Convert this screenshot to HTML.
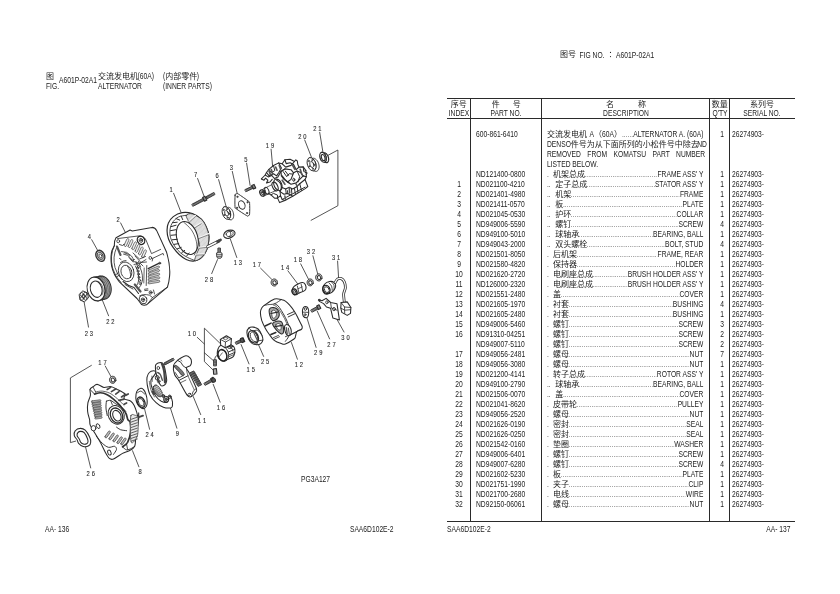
<!DOCTYPE html>
<html lang="zh">
<head>
<meta charset="utf-8">
<title>A601P-02A1 ALTERNATOR (INNER PARTS)</title>
<style>
html,body{margin:0;padding:0;background:#fff;}
body{width:840px;height:594px;position:relative;overflow:hidden;
 font-family:"Liberation Sans","Noto Sans CJK SC",sans-serif;font-size:9.0px;line-height:10px;color:#222;}
.t,.tr,.tc{position:absolute;white-space:nowrap;height:10px;transform:scaleX(0.745);}
.t{transform-origin:0 50%;}
.tr{transform-origin:100% 50%;text-align:right;}
.tc{transform-origin:50% 50%;text-align:center;}
.cj{display:inline-block;font-size:8.0px;vertical-align:top;height:10px;text-align:left;}
.cj>span{display:inline-block;position:relative;top:0.9px;transform:scaleX(1.3423);transform-origin:0 50%;}
.hl{position:absolute;background:#2a2a2a;height:1.15px;}
.vl{position:absolute;background:#2a2a2a;width:1.1px;}
#tbl{position:absolute;left:0;top:0;width:840px;height:594px;}
.row{position:absolute;left:447px;width:348px;height:10px;}
.row>span{position:absolute;top:0;height:10px;white-space:nowrap;transform:scaleX(0.745);}
.ix{left:0;width:24px;text-align:center;transform-origin:50% 50%;}
.pn{left:28.8px;transform-origin:0 50%;}
.ds{left:100.4px;width:209.9px;transform-origin:0 50%;}
.jl{left:100.4px;width:212.3px;transform-origin:0 50%;}
.ds{display:flex;overflow:hidden;}
.ds b{font-weight:normal;flex:0 0 auto;}
.ds i{font-style:normal;flex:1 1 0;overflow:hidden;color:#777;min-width:0;}
.ds u{text-decoration:none;color:#555;}
.qt{left:263.1px;width:24px;text-align:center;transform-origin:50% 50%;}
.sn{left:285px;transform-origin:0 50%;}
#fig{position:absolute;left:0;top:0;}
#page{position:absolute;left:0;top:0;width:840px;height:594px;background:#fff;will-change:transform;overflow:hidden;}
</style>
</head>
<body>
<div id="page">

<div class="t" style="left:46.2px;top:71px"><span class="cj" style="width:10.60px"><span>图</span></span></div>
<div class="t" style="left:46px;top:80.5px">FIG.</div>
<div class="t" style="left:59px;top:74.6px">A601P-02A1</div>
<div class="t" style="left:98px;top:71px"><span class="cj" style="width:53.02px"><span>交流发电机</span></span>(60A)</div>
<div class="t" style="left:98px;top:80.5px">ALTERNATOR</div>
<div class="t" style="left:163px;top:71px">(<span class="cj" style="width:42.42px"><span>内部零件</span></span>)</div>
<div class="t" style="left:163px;top:80.5px">(INNER PARTS)</div>
<div class="t" style="left:301px;top:474px">PG3A127</div>
<div class="t" style="left:45px;top:523.9px">AA- 136</div>
<div class="tr" style="right:446px;top:523.9px">SAA6D102E-2</div>
<div class="t" style="left:559.5px;top:49.6px"><span class="cj" style="width:21.21px"><span>图号</span></span>&nbsp; FIG NO. &nbsp;<span class="cj" style="width:10.60px"><span>：</span></span>A601P-02A1</div>
<div class="t" style="left:447px;top:523.9px">SAA6D102E-2</div>
<div class="tr" style="right:49.2px;top:523.9px">AA- 137</div>
<svg id="fig" width="840" height="594" viewBox="0 0 840 594" fill="none" stroke="#2b2b2b" stroke-width="0.8" stroke-linecap="round" stroke-linejoin="round">
<style>.lb{font-family:"Liberation Sans",sans-serif;font-size:7.4px;fill:#2a2a2a;stroke:#2a2a2a;stroke-width:0.12px;text-anchor:middle}</style>
<g id="leaders">
<text class="lb" transform="translate(317.4 128.6) scale(0.78 1)" y="2.7" x="-3.3 3.3">21</text>
<line x1="319.7" y1="132.3" x2="323.1" y2="153.2"/>
<text class="lb" transform="translate(302.4 136.1) scale(0.78 1)" y="2.7" x="-3.3 3.3">20</text>
<line x1="304.7" y1="140.0" x2="311.8" y2="158.1"/>
<text class="lb" transform="translate(270.0 145.3) scale(0.78 1)" y="2.7" x="-3.3 3.3">19</text>
<line x1="271.1" y1="149.2" x2="272.6" y2="166.1"/>
<text class="lb" transform="translate(245.8 159.2) scale(0.78 1)" y="2.7" x="0.0">5</text>
<line x1="246.6" y1="163.2" x2="250.1" y2="185.4"/>
<text class="lb" transform="translate(231.4 167.6) scale(0.78 1)" y="2.7" x="0.0">3</text>
<line x1="232.3" y1="171.4" x2="237.4" y2="194.4"/>
<text class="lb" transform="translate(217.1 175.5) scale(0.78 1)" y="2.7" x="0.0">6</text>
<line x1="218.6" y1="179.6" x2="226.1" y2="206.4"/>
<text class="lb" transform="translate(195.6 174.4) scale(0.78 1)" y="2.7" x="0.0">7</text>
<line x1="197.6" y1="178.5" x2="204.0" y2="196.1"/>
<text class="lb" transform="translate(171.2 189.2) scale(0.78 1)" y="2.7" x="0.0">1</text>
<line x1="173.6" y1="193.3" x2="181.1" y2="212.6"/>
<text class="lb" transform="translate(118.1 218.8) scale(0.78 1)" y="2.7" x="0.0">2</text>
<line x1="120.6" y1="222.9" x2="125.4" y2="232.5"/>
<text class="lb" transform="translate(89.4 236.0) scale(0.78 1)" y="2.7" x="0.0">4</text>
<line x1="91.7" y1="239.7" x2="98.6" y2="252.1"/>
<text class="lb" transform="translate(110.4 321.4) scale(0.78 1)" y="2.7" x="-3.3 3.3">22</text>
<line x1="102.2" y1="299.7" x2="108.6" y2="315.8"/>
<text class="lb" transform="translate(88.9 332.9) scale(0.78 1)" y="2.7" x="-3.3 3.3">23</text>
<line x1="84.0" y1="301.4" x2="88.5" y2="327.1"/>
<text class="lb" transform="translate(209.0 279.4) scale(0.78 1)" y="2.7" x="-3.3 3.3">28</text>
<line x1="217.5" y1="259.6" x2="211.7" y2="273.6"/>
<text class="lb" transform="translate(237.9 262.4) scale(0.78 1)" y="2.7" x="-3.3 3.3">13</text>
<line x1="230.4" y1="239.3" x2="236.8" y2="257.5"/>
<text class="lb" transform="translate(256.8 264.4) scale(0.78 1)" y="2.7" x="-3.3 3.3">17</text>
<line x1="260.6" y1="268.2" x2="272.4" y2="280.0"/>
<text class="lb" transform="translate(285.1 266.9) scale(0.78 1)" y="2.7" x="-3.3 3.3">14</text>
<line x1="287.9" y1="270.8" x2="297.5" y2="283.6"/>
<text class="lb" transform="translate(297.9 259.6) scale(0.78 1)" y="2.7" x="-3.3 3.3">18</text>
<line x1="300.7" y1="263.9" x2="308.9" y2="280.0"/>
<text class="lb" transform="translate(311.0 251.7) scale(0.78 1)" y="2.7" x="-3.3 3.3">32</text>
<line x1="312.9" y1="255.8" x2="317.9" y2="274.6"/>
<text class="lb" transform="translate(336.1 257.1) scale(0.78 1)" y="2.7" x="-3.3 3.3">31</text>
<line x1="337.6" y1="261.1" x2="338.6" y2="277.9"/>
<text class="lb" transform="translate(345.5 336.8) scale(0.78 1)" y="2.7" x="-3.3 3.3">30</text>
<line x1="337.1" y1="319.6" x2="344.0" y2="332.0"/>
<text class="lb" transform="translate(331.5 344.0) scale(0.78 1)" y="2.7" x="-3.3 3.3">27</text>
<line x1="317.2" y1="311.0" x2="329.6" y2="338.9"/>
<text class="lb" transform="translate(318.2 352.6) scale(0.78 1)" y="2.7" x="-3.3 3.3">29</text>
<line x1="306.5" y1="316.5" x2="316.1" y2="347.4"/>
<text class="lb" transform="translate(298.9 364.4) scale(0.78 1)" y="2.7" x="-3.3 3.3">12</text>
<line x1="291.4" y1="342.5" x2="297.4" y2="359.2"/>
<text class="lb" transform="translate(265.1 361.4) scale(0.78 1)" y="2.7" x="-3.3 3.3">25</text>
<line x1="258.2" y1="344.0" x2="263.6" y2="356.4"/>
<text class="lb" transform="translate(250.7 369.3) scale(0.78 1)" y="2.7" x="-3.3 3.3">15</text>
<line x1="241.1" y1="344.6" x2="249.0" y2="363.9"/>
<text class="lb" transform="translate(221.0 407.4) scale(0.78 1)" y="2.7" x="-3.3 3.3">16</text>
<line x1="213.2" y1="384.3" x2="220.1" y2="402.1"/>
<text class="lb" transform="translate(202.0 420.2) scale(0.78 1)" y="2.7" x="-3.3 3.3">11</text>
<line x1="193.2" y1="396.5" x2="200.7" y2="414.6"/>
<text class="lb" transform="translate(177.3 433.6) scale(0.78 1)" y="2.7" x="0.0">9</text>
<line x1="170.0" y1="406.8" x2="176.9" y2="428.2"/>
<text class="lb" transform="translate(149.6 434.2) scale(0.78 1)" y="2.7" x="-3.3 3.3">24</text>
<line x1="144.3" y1="407.9" x2="149.6" y2="429.3"/>
<text class="lb" transform="translate(140.0 471.5) scale(0.78 1)" y="2.7" x="0.0">8</text>
<line x1="132.5" y1="450.7" x2="138.9" y2="466.8"/>
<text class="lb" transform="translate(90.7 472.8) scale(0.78 1)" y="2.7" x="-3.3 3.3">26</text>
<line x1="85.4" y1="446.4" x2="90.7" y2="467.9"/>
<text class="lb" transform="translate(102.5 361.8) scale(0.78 1)" y="2.7" x="-3.3 3.3">17</text>
<line x1="105.3" y1="366.1" x2="111.1" y2="376.8"/>
<text class="lb" transform="translate(191.8 333.3) scale(0.78 1)" y="2.7" x="-3.3 3.3">10</text>
<path d="M327.9 155.4 L337.9 150.0 L337.9 205.7 L311.1 220.3"/>
<path d="M91.4 365.4 L70.4 377.9 L70.4 442.6 L75.7 441.1"/>
</g>
<g id="p1">
<path d="M167.1 231.3 C167.0 228.6 167.2 225.6 168.3 223.2 C169.3 220.7 171.0 218.4 173.3 216.6 C175.6 214.8 179.0 213.1 182.2 212.6 C185.4 212.1 189.1 212.5 192.3 213.6 C195.5 214.7 199.0 216.9 201.4 219.1 C203.8 221.4 205.2 224.4 206.4 227.2 C207.7 230.1 208.7 233.3 209.0 236.3 C209.2 239.3 208.5 242.7 208.0 245.4 C207.4 248.1 206.7 250.3 205.4 252.5 C204.2 254.7 202.4 257.1 200.4 258.5 C198.4 260.0 195.7 260.9 193.3 261.1 C191.0 261.2 188.6 260.6 186.2 259.5 C183.9 258.4 181.4 256.5 179.2 254.5 C177.0 252.5 174.9 249.9 173.1 247.4 C171.3 244.9 169.6 242.0 168.6 239.3 C167.6 236.6 167.1 233.9 167.1 231.3 Z" stroke-width="1.18" fill="#fff"/>
<path d="M186.2 215.3 C186.9 214.1 189.8 213.2 192.3 213.9 C194.8 214.6 199.0 217.1 201.4 219.3 C203.8 221.6 205.2 224.4 206.4 227.2 C207.7 230.0 208.5 233.3 208.8 236.3 C209.0 239.3 208.5 242.7 208.0 245.4 C207.4 248.1 206.7 250.3 205.4 252.5 C204.2 254.6 202.2 257.0 200.4 258.3 C198.6 259.7 195.4 261.4 194.8 260.5 C194.2 259.7 196.1 255.8 196.8 253.5 C197.6 251.1 199.4 248.8 199.6 246.4 C199.7 244.0 199.1 241.7 197.9 238.8 C196.6 236.0 193.9 232.2 192.3 229.2 C190.7 226.3 189.5 223.5 188.5 221.2 C187.5 218.8 185.6 216.5 186.2 215.3 Z" stroke-width="0.83" fill="#fafafa"/>
<clipPath id="bandclip"><path d="M186.2 215.3 C186.9 214.1 189.8 213.2 192.3 213.9 C194.8 214.6 199.0 217.1 201.4 219.3 C203.8 221.6 205.2 224.4 206.4 227.2 C207.7 230.0 208.5 233.3 208.8 236.3 C209.0 239.3 208.5 242.7 208.0 245.4 C207.4 248.1 206.7 250.3 205.4 252.5 C204.2 254.6 202.2 257.0 200.4 258.3 C198.6 259.7 195.4 261.4 194.8 260.5 C194.2 259.7 196.1 255.8 196.8 253.5 C197.6 251.1 199.4 248.8 199.6 246.4 C199.7 244.0 199.1 241.7 197.9 238.8 C196.6 236.0 193.9 232.2 192.3 229.2 C190.7 226.3 189.5 223.5 188.5 221.2 C187.5 218.8 185.6 216.5 186.2 215.3 Z"/></clipPath>
<g clip-path="url(#bandclip)" stroke="#888" stroke-width="0.35">
<line x1="167.5" y1="205.0" x2="183.5" y2="270.0"/>
<line x1="168.8" y1="205.0" x2="184.8" y2="270.0"/>
<line x1="170.0" y1="205.0" x2="186.0" y2="270.0"/>
<line x1="171.2" y1="205.0" x2="187.2" y2="270.0"/>
<line x1="172.5" y1="205.0" x2="188.5" y2="270.0"/>
<line x1="173.8" y1="205.0" x2="189.8" y2="270.0"/>
<line x1="175.0" y1="205.0" x2="191.0" y2="270.0"/>
<line x1="176.2" y1="205.0" x2="192.2" y2="270.0"/>
<line x1="177.5" y1="205.0" x2="193.5" y2="270.0"/>
<line x1="178.8" y1="205.0" x2="194.8" y2="270.0"/>
<line x1="180.0" y1="205.0" x2="196.0" y2="270.0"/>
<line x1="181.2" y1="205.0" x2="197.2" y2="270.0"/>
<line x1="182.5" y1="205.0" x2="198.5" y2="270.0"/>
<line x1="183.8" y1="205.0" x2="199.8" y2="270.0"/>
<line x1="185.0" y1="205.0" x2="201.0" y2="270.0"/>
<line x1="186.2" y1="205.0" x2="202.2" y2="270.0"/>
<line x1="187.5" y1="205.0" x2="203.5" y2="270.0"/>
<line x1="188.8" y1="205.0" x2="204.8" y2="270.0"/>
<line x1="190.0" y1="205.0" x2="206.0" y2="270.0"/>
<line x1="191.2" y1="205.0" x2="207.2" y2="270.0"/>
<line x1="192.5" y1="205.0" x2="208.5" y2="270.0"/>
<line x1="193.8" y1="205.0" x2="209.8" y2="270.0"/>
<line x1="195.0" y1="205.0" x2="211.0" y2="270.0"/>
<line x1="196.2" y1="205.0" x2="212.2" y2="270.0"/>
<line x1="197.5" y1="205.0" x2="213.5" y2="270.0"/>
<line x1="198.8" y1="205.0" x2="214.8" y2="270.0"/>
<line x1="200.0" y1="205.0" x2="216.0" y2="270.0"/>
<line x1="201.2" y1="205.0" x2="217.2" y2="270.0"/>
<line x1="202.5" y1="205.0" x2="218.5" y2="270.0"/>
<line x1="203.8" y1="205.0" x2="219.8" y2="270.0"/>
<line x1="205.0" y1="205.0" x2="221.0" y2="270.0"/>
<line x1="206.2" y1="205.0" x2="222.2" y2="270.0"/>
<line x1="207.5" y1="205.0" x2="223.5" y2="270.0"/>
<line x1="208.8" y1="205.0" x2="224.8" y2="270.0"/>
<line x1="210.0" y1="205.0" x2="226.0" y2="270.0"/>
<line x1="211.2" y1="205.0" x2="227.2" y2="270.0"/>
<line x1="212.5" y1="205.0" x2="228.5" y2="270.0"/>
<line x1="213.8" y1="205.0" x2="229.8" y2="270.0"/>
<line x1="215.0" y1="205.0" x2="231.0" y2="270.0"/>
<line x1="216.2" y1="205.0" x2="232.2" y2="270.0"/>
<line x1="217.5" y1="205.0" x2="233.5" y2="270.0"/>
<line x1="218.8" y1="205.0" x2="234.8" y2="270.0"/>
<line x1="220.0" y1="205.0" x2="236.0" y2="270.0"/>
<line x1="221.2" y1="205.0" x2="237.2" y2="270.0"/>
<line x1="222.5" y1="205.0" x2="238.5" y2="270.0"/>
<line x1="223.8" y1="205.0" x2="239.8" y2="270.0"/>
<line x1="225.0" y1="205.0" x2="241.0" y2="270.0"/>
<line x1="226.2" y1="205.0" x2="242.2" y2="270.0"/>
<line x1="227.5" y1="205.0" x2="243.5" y2="270.0"/>
<line x1="228.8" y1="205.0" x2="244.8" y2="270.0"/>
</g>
<line x1="192.3" y1="228.4" x2="200.9" y2="223.0" stroke-width="1.53" stroke="#f4f4f4"/>
<line x1="192.6" y1="229.2" x2="201.2" y2="223.8" stroke-width="0.59" stroke="#444"/>
<line x1="197.6" y1="238.1" x2="208.7" y2="233.8" stroke-width="1.53" stroke="#f4f4f4"/>
<line x1="197.9" y1="238.9" x2="209.0" y2="234.6" stroke-width="0.59" stroke="#444"/>
<line x1="199.4" y1="247.4" x2="207.7" y2="246.4" stroke-width="1.53" stroke="#f4f4f4"/>
<line x1="199.7" y1="248.2" x2="208.0" y2="247.2" stroke-width="0.59" stroke="#444"/>
<line x1="189.1" y1="221.2" x2="195.3" y2="215.6" stroke-width="1.53" stroke="#f4f4f4"/>
<line x1="189.4" y1="222.0" x2="195.6" y2="216.4" stroke-width="0.59" stroke="#444"/>
<line x1="196.8" y1="254.3" x2="204.4" y2="254.0" stroke-width="1.53" stroke="#f4f4f4"/>
<line x1="197.1" y1="255.1" x2="204.7" y2="254.8" stroke-width="0.59" stroke="#444"/>
<path d="M186.2 215.3 C184.9 215.6 180.5 215.8 178.2 217.1 C175.8 218.4 173.5 220.8 172.1 223.2 C170.7 225.5 170.0 228.6 169.9 231.3 C169.7 233.9 170.2 236.7 171.1 239.3 C172.0 241.9 173.5 244.6 175.1 246.9 C176.7 249.2 178.7 251.2 180.7 253.0 C182.7 254.7 184.9 256.1 187.3 257.3 C189.6 258.6 193.6 260.0 194.8 260.5" stroke-width="0.83"/>
<ellipse cx="187.3" cy="238.0" rx="10.4" ry="16.9" stroke-width="1.06" fill="#fff" transform="rotate(-16.0 187.3 238.0)"/>
<path d="M183.7 222.2 C185.0 223.4 189.3 226.9 191.3 229.7 C193.3 232.6 194.9 236.2 195.8 239.3 C196.8 242.4 197.1 245.8 196.8 248.4 C196.6 251.0 194.7 253.9 194.3 255.0" stroke-width="0.71"/>
<line x1="170.9" y1="226.7" x2="176.1" y2="225.2" stroke-width="1.00"/>
<line x1="170.5" y1="230.7" x2="175.9" y2="229.7" stroke-width="1.00"/>
<line x1="170.9" y1="235.3" x2="176.3" y2="234.8" stroke-width="1.00"/>
<line x1="172.1" y1="239.8" x2="177.4" y2="239.3" stroke-width="1.00"/>
<line x1="174.1" y1="244.4" x2="178.7" y2="243.6" stroke-width="1.00"/>
<line x1="177.2" y1="248.9" x2="181.2" y2="247.4" stroke-width="1.00"/>
<line x1="181.7" y1="252.7" x2="184.7" y2="250.4" stroke-width="1.00"/>
<line x1="186.7" y1="256.0" x2="189.1" y2="253.0" stroke-width="1.00"/>
<line x1="172.6" y1="222.7" x2="177.2" y2="222.2" stroke-width="1.00"/>
<line x1="176.1" y1="218.6" x2="179.7" y2="220.1" stroke-width="1.00"/>
<line x1="181.2" y1="216.1" x2="182.7" y2="219.6" stroke-width="1.00"/>
<path d="M207.8 246.6 L218.8 241.2" stroke-width="3.07" stroke="#333"/>
<path d="M207.6 246.7 L217.6 241.8" stroke-width="1.53" stroke="#fff"/>
<path d="M217.4 241.6 L220.6 239.8" stroke-width="2.60" stroke="#444"/>
</g>
<g id="p2">
<path d="M116 237.7 L130.1 230 L132.3 230.9 L152 227.4 Q155.2 227.6 156.6 230.4 L166.6 252.3 Q170.6 266 169.6 276 Q169 283 167.4 287.2 L148.8 302.8 Q145.5 306.5 141.5 304.5 L137 298.5 L119.4 281.8 Q113.4 275 111.6 266 Q110.2 257 112 250.5 L114.4 245.4 Q114.2 240.5 116 237.7 Z" stroke-width="1.06"/>
<path d="M117.5 238.6 L138 236 Q143.5 235.3 146 240 L151.5 253.6 L160.6 249.4"/>
<path d="M152.8 258.3 L163.1 253.4 L163.6 255"/>
<path d="M152.8 258.3 L152.2 261"/>
<ellipse cx="150.3" cy="257.9" rx="1.3" ry="1.5"/>
<ellipse cx="118.2" cy="241.2" rx="1.4" ry="1.6"/>
<path d="M119.5 244.5 L122.5 245.5 L124 244" stroke-width="0.83"/>
<ellipse cx="141.0" cy="240.3" rx="3.6" ry="4.3" stroke-width="1.30" stroke="#222" transform="rotate(-25.0 141.0 240.3)"/>
<ellipse cx="141.0" cy="240.3" rx="1.7" ry="2.1" transform="rotate(-25.0 141.0 240.3)"/>
<ellipse cx="141.0" cy="240.3" rx="0.6" ry="0.8" transform="rotate(-25.0 141.0 240.3)"/>
<rect x="122.4" y="241.4" width="8.4" height="2.3" rx="1.1" stroke-width="0.65" stroke="#444" fill="#eee" transform="rotate(-66.0 126.6 242.6)"/>
<rect x="126.4" y="242.4" width="8.4" height="2.3" rx="1.1" stroke-width="0.65" stroke="#444" fill="#eee" transform="rotate(-66.0 130.6 243.6)"/>
<rect x="130.0" y="244.7" width="8.4" height="2.3" rx="1.1" stroke-width="0.65" stroke="#444" fill="#eee" transform="rotate(-66.0 134.2 245.8)"/>
<rect x="133.4" y="247.2" width="8.4" height="2.3" rx="1.1" stroke-width="0.65" stroke="#444" fill="#eee" transform="rotate(-66.0 137.6 248.4)"/>
<rect x="136.7" y="249.8" width="8.4" height="2.3" rx="1.1" stroke-width="0.65" stroke="#444" fill="#eee" transform="rotate(-66.0 140.9 251.0)"/>
<rect x="139.8" y="252.7" width="8.4" height="2.3" rx="1.1" stroke-width="0.65" stroke="#444" fill="#eee" transform="rotate(-66.0 144.0 253.8)"/>
<path d="M114.4 245.4 Q109.5 256 112.6 268 Q115 277 121 282.5"/>
<path d="M116.6 247.5 Q112.3 257 115 267.5 Q117 275 122 279.5"/>
<path d="M117 246.5 L120.5 255" stroke-width="2.12" stroke="#555"/>
<path d="M119.5 258.5 L121 259.5 M115.5 275 L118 273 M116.5 277 L119.5 275" stroke-width="0.83"/>
<ellipse cx="126.2" cy="271.8" rx="7.6" ry="10.0" transform="rotate(-18.0 126.2 271.8)"/>
<ellipse cx="126.4" cy="272.0" rx="5.3" ry="6.9" transform="rotate(-18.0 126.4 272.0)"/>
<path d="M127.5 266.2 Q131.2 270.5 130.5 277.6"/>
<path d="M120.5 262.5 Q123 260.5 126 260.5" stroke-width="0.83"/>
<path d="M121.5 251.5 Q127 251 131.5 256 Q134 259 133.5 261.5 L137.5 262.5"/>
<path d="M123.5 254 Q128 254.5 130.5 258 L133 262"/>
<path d="M124.5 252.8 Q127.5 253.5 129.5 255.5" stroke-width="0.83"/>
<path d="M129 257.5 L131.5 260.5 L134.5 259.5"/>
<path d="M135 256 L141 262.5 L146 259.5"/>
<path d="M133 253 L139.5 259 L145.5 256.5" stroke-width="0.83"/>
<path d="M137.5 264 Q143 270 142.5 280 Q141.5 286 138.5 288.5"/>
<path d="M135.5 266 Q139.5 272 138.8 280 Q138 284.5 136 286.5"/>
<path d="M134 264.5 L140 263 L143 266"/>
<path d="M136 262 L138 268 M138.5 261.5 L140.5 267" stroke-width="0.83"/>
<path d="M140.5 262.5 L146.5 262"/>
<ellipse cx="137.6" cy="268.0" rx="1.0" ry="1.2" stroke-width="0.71"/>
<ellipse cx="138.0" cy="271.1" rx="1.0" ry="1.2" stroke-width="0.71"/>
<ellipse cx="138.5" cy="274.2" rx="1.0" ry="1.2" stroke-width="0.71"/>
<ellipse cx="138.9" cy="277.3" rx="1.0" ry="1.2" stroke-width="0.71"/>
<ellipse cx="139.7" cy="280.4" rx="1.0" ry="1.2" stroke-width="0.71"/>
<ellipse cx="140.2" cy="283.5" rx="1.0" ry="1.2" stroke-width="0.71"/>
<path d="M123 281.5 Q128 286 134 287.5 L138.5 293.5" stroke-width="1.06"/>
<path d="M125 284.5 Q129 287 133 289" stroke-width="0.83"/>
<path d="M134.8 284.5 L140.5 291.5" stroke-width="2.24" stroke="#555"/>
<line x1="148.2" y1="268.6" x2="159.3" y2="263.2" stroke-width="1.30"/>
<rect x="147.9" y="267.9" width="12.0" height="2.0" rx="1.0" stroke-width="0.6" stroke="#444" fill="#ccc" transform="rotate(-22.5 153.9 268.9)"/>
<rect x="147.9" y="271.2" width="12.0" height="2.0" rx="1.0" stroke-width="0.6" stroke="#444" fill="#ccc" transform="rotate(-19.8 153.9 272.2)"/>
<rect x="147.9" y="274.5" width="12.0" height="2.0" rx="1.0" stroke-width="0.6" stroke="#444" fill="#ccc" transform="rotate(-15.1 153.9 275.5)"/>
<rect x="147.9" y="277.8" width="12.0" height="2.0" rx="1.0" stroke-width="0.6" stroke="#444" fill="#ccc" transform="rotate(-12.2 153.9 278.8)"/>
<rect x="147.9" y="281.1" width="12.0" height="2.0" rx="1.0" stroke-width="0.6" stroke="#444" fill="#ccc" transform="rotate(-9.2 153.9 282.1)"/>
<ellipse cx="159.8" cy="263.2" rx="0.9" ry="1.0"/>
<path d="M146.8 265.5 L146.2 285.5"/>
<path d="M144.2 268 L143.8 283" stroke-width="0.71"/>
<ellipse cx="143.2" cy="299.6" rx="3.6" ry="4.3" transform="rotate(-25.0 143.2 299.6)"/>
<ellipse cx="143.0" cy="299.8" rx="1.6" ry="2.0" transform="rotate(-25.0 143.0 299.8)"/>
<ellipse cx="143.0" cy="299.8" rx="0.5" ry="0.7" transform="rotate(-25.0 143.0 299.8)"/>
<ellipse cx="150.6" cy="292.5" rx="1.5" ry="1.7"/>
<ellipse cx="150.6" cy="292.5" rx="0.5" ry="0.6"/>
<path d="M139.5 296 Q143 293.5 149.5 295.2 L152.5 297.5 L148.5 302.8"/>
<path d="M152.5 297.5 L167.4 287.2"/>
<path d="M144.5 289.3 L147.8 288.8 M144.8 290.6 L148 290.2" stroke-width="0.83"/>
<path d="M153.5 290 L154.5 294"/>
</g>
<g id="small_top">
<path d="M312.2 158.5 L312.7 158.3 L313.3 158.2 L313.9 158.3 L314.5 158.4 L315.1 158.7 L315.7 159.2 L316.3 159.7 L316.9 160.3 L317.4 161.0 L317.9 161.8 L318.3 162.6 L318.6 163.5 L318.8 164.4 L319.0 165.3 L319.1 166.2 L319.1 167.1 L319.0 167.9 L318.8 168.7 L318.6 169.4 L318.3 170.0 L317.9 170.5 L317.4 170.9 L316.9 171.2 L316.3 171.4 L313.3 170.8 L313.9 170.6 L314.4 170.3 L314.9 169.9 L315.3 169.4 L315.6 168.8 L315.8 168.1 L316.0 167.3 L316.1 166.5 L316.1 165.6 L316.0 164.7 L315.8 163.8 L315.6 162.9 L315.3 162.0 L314.9 161.2 L314.4 160.4 L313.9 159.7 L313.3 159.1 L312.7 158.6 L312.1 158.1 L311.5 157.8 L310.9 157.7 L310.3 157.6 L309.7 157.7 L309.2 157.9 Z" stroke-width="0.89" fill="#fff"/>
<ellipse cx="311.6" cy="164.2" rx="4.2" ry="6.8" stroke-width="0.89" fill="#fff" transform="rotate(-18.0 311.6 164.2)"/>
<ellipse cx="311.8" cy="164.5" rx="1.9" ry="3.1" stroke-width="0.83" transform="rotate(-18.0 311.8 164.5)"/>
<ellipse cx="314.7" cy="164.9" rx="0.6" ry="0.7" stroke-width="0.59" fill="#666"/>
<ellipse cx="313.0" cy="168.8" rx="0.6" ry="0.7" stroke-width="0.59" fill="#666"/>
<ellipse cx="309.3" cy="166.3" rx="0.6" ry="0.7" stroke-width="0.59" fill="#666"/>
<ellipse cx="308.8" cy="161.0" rx="0.6" ry="0.7" stroke-width="0.59" fill="#666"/>
<ellipse cx="312.2" cy="160.1" rx="0.6" ry="0.7" stroke-width="0.59" fill="#666"/>
<path d="M323.6 153.0 L324.0 152.9 L324.4 152.9 L324.8 152.9 L325.3 153.0 L325.7 153.3 L326.2 153.6 L326.6 154.0 L327.0 154.5 L327.4 155.0 L327.7 155.6 L328.0 156.2 L328.3 156.9 L328.4 157.5 L328.6 158.2 L328.6 158.9 L328.7 159.6 L328.6 160.2 L328.5 160.7 L328.3 161.3 L328.1 161.7 L327.8 162.1 L327.5 162.4 L327.1 162.6 L326.7 162.7 L324.3 162.2 L324.7 162.1 L325.1 161.9 L325.4 161.6 L325.7 161.2 L325.9 160.8 L326.1 160.2 L326.2 159.7 L326.3 159.1 L326.2 158.4 L326.2 157.7 L326.0 157.0 L325.9 156.4 L325.6 155.7 L325.3 155.1 L325.0 154.5 L324.6 154.0 L324.2 153.5 L323.8 153.1 L323.3 152.8 L322.9 152.5 L322.4 152.4 L322.0 152.4 L321.6 152.4 L321.2 152.5 Z" stroke-width="1.18" fill="#fff"/>
<ellipse cx="323.0" cy="157.3" rx="3.0" ry="5.1" stroke-width="1.18" fill="#fff" transform="rotate(-18.0 323.0 157.3)"/>
<ellipse cx="323.2" cy="157.6" rx="1.7" ry="3.2" stroke-width="1.18" transform="rotate(-18.0 323.2 157.6)"/>
<path d="M227.1 207.5 L227.6 207.4 L228.1 207.3 L228.7 207.3 L229.3 207.5 L229.9 207.8 L230.5 208.2 L231.1 208.7 L231.6 209.3 L232.1 210.0 L232.5 210.7 L232.9 211.5 L233.2 212.4 L233.4 213.2 L233.6 214.1 L233.7 215.0 L233.7 215.8 L233.6 216.6 L233.5 217.3 L233.2 218.0 L232.9 218.6 L232.5 219.1 L232.1 219.4 L231.6 219.7 L231.1 219.9 L228.1 219.3 L228.6 219.1 L229.1 218.8 L229.5 218.5 L229.9 218.0 L230.2 217.4 L230.5 216.7 L230.6 216.0 L230.7 215.2 L230.7 214.4 L230.6 213.5 L230.4 212.6 L230.2 211.8 L229.9 210.9 L229.5 210.1 L229.1 209.4 L228.6 208.7 L228.1 208.1 L227.5 207.6 L226.9 207.2 L226.3 206.9 L225.7 206.7 L225.1 206.7 L224.6 206.8 L224.1 206.9 Z" stroke-width="0.89" fill="#fff"/>
<ellipse cx="226.4" cy="213.0" rx="4.0" ry="6.5" stroke-width="0.89" fill="#fff" transform="rotate(-18.0 226.4 213.0)"/>
<ellipse cx="226.6" cy="213.3" rx="1.8" ry="2.9" stroke-width="0.83" transform="rotate(-18.0 226.6 213.3)"/>
<ellipse cx="229.4" cy="213.7" rx="0.6" ry="0.7" stroke-width="0.59" fill="#666"/>
<ellipse cx="227.7" cy="217.4" rx="0.6" ry="0.7" stroke-width="0.59" fill="#666"/>
<ellipse cx="224.2" cy="215.0" rx="0.6" ry="0.7" stroke-width="0.59" fill="#666"/>
<ellipse cx="223.7" cy="209.9" rx="0.6" ry="0.7" stroke-width="0.59" fill="#666"/>
<ellipse cx="226.9" cy="209.1" rx="0.6" ry="0.7" stroke-width="0.59" fill="#666"/>
<path d="M246.1 191.6 L253.1 188.3 L252.1 186.3 L245.1 189.6 Z" stroke-width="0.83" fill="#999"/>
<line x1="247.2" y1="191.0" x2="246.3" y2="189.1" stroke-width="0.59" stroke="#333"/>
<line x1="248.4" y1="190.5" x2="247.5" y2="188.5" stroke-width="0.59" stroke="#333"/>
<line x1="249.6" y1="189.9" x2="248.6" y2="188.0" stroke-width="0.59" stroke="#333"/>
<line x1="250.7" y1="189.4" x2="249.8" y2="187.4" stroke-width="0.59" stroke="#333"/>
<line x1="251.9" y1="188.8" x2="251.0" y2="186.9" stroke-width="0.59" stroke="#333"/>
<path d="M253.5 189.1 L255.8 188.0 L254.1 184.4 L251.7 185.5 Z" stroke-width="1.06" fill="#888"/>
<path d="M193.1 206.2 L204.1 200.4 L203.1 198.4 L192.1 204.2 Z" stroke-width="0.83" fill="#999"/>
<line x1="194.2" y1="205.6" x2="193.2" y2="203.6" stroke-width="0.59" stroke="#333"/>
<line x1="195.3" y1="205.0" x2="194.3" y2="203.1" stroke-width="0.59" stroke="#333"/>
<line x1="196.4" y1="204.4" x2="195.4" y2="202.5" stroke-width="0.59" stroke="#333"/>
<line x1="197.5" y1="203.9" x2="196.5" y2="201.9" stroke-width="0.59" stroke="#333"/>
<line x1="198.6" y1="203.3" x2="197.6" y2="201.3" stroke-width="0.59" stroke="#333"/>
<line x1="199.7" y1="202.7" x2="198.7" y2="200.7" stroke-width="0.59" stroke="#333"/>
<line x1="200.8" y1="202.1" x2="199.8" y2="200.2" stroke-width="0.59" stroke="#333"/>
<line x1="201.9" y1="201.5" x2="200.9" y2="199.6" stroke-width="0.59" stroke="#333"/>
<line x1="203.0" y1="201.0" x2="202.0" y2="199.0" stroke-width="0.59" stroke="#333"/>
<path d="M204.6 201.3 L206.9 200.0 L204.9 196.3 L202.6 197.5 Z" stroke-width="1.06" fill="#888"/>
<path d="M213.7 192.6 L205.9 196.8 L206.9 198.8 L214.7 194.6 Z" stroke-width="0.83" fill="#999"/>
<line x1="212.6" y1="193.2" x2="213.6" y2="195.2" stroke-width="0.59" stroke="#333"/>
<line x1="211.4" y1="193.8" x2="212.5" y2="195.8" stroke-width="0.59" stroke="#333"/>
<line x1="210.3" y1="194.4" x2="211.4" y2="196.4" stroke-width="0.59" stroke="#333"/>
<line x1="209.2" y1="195.0" x2="210.3" y2="197.0" stroke-width="0.59" stroke="#333"/>
<line x1="208.1" y1="195.6" x2="209.2" y2="197.6" stroke-width="0.59" stroke="#333"/>
<line x1="207.0" y1="196.2" x2="208.0" y2="198.2" stroke-width="0.59" stroke="#333"/>
<path d="M206.4 197.8 L206.4 197.8 L206.4 197.8 L206.4 197.8 Z" stroke-width="1.06" fill="#888"/>
<path d="M235.1 195.2 C235.4 193.1 235.9 194.1 236.5 193.9 C237.0 193.7 236.4 192.9 238.4 194.1 C240.4 195.3 246.5 199.6 248.4 201.1 C250.3 202.7 249.4 201.2 249.6 203.3 C249.8 205.4 249.8 211.8 249.6 213.8 C249.4 215.9 248.9 215.3 248.4 215.6 C247.9 215.9 248.6 216.8 246.6 215.6 C244.5 214.4 237.9 210.1 236.0 208.6 C234.1 207.1 235.1 208.9 235.0 206.7 C234.8 204.4 234.9 197.4 235.1 195.2 Z" stroke-width="0.94" fill="#fff"/>
<ellipse cx="241.8" cy="205.0" rx="3.1" ry="4.4" stroke-width="0.94" transform="rotate(-20.0 241.8 205.0)"/>
<ellipse cx="237.4" cy="196.8" rx="0.7" ry="0.8" stroke-width="0.59" fill="#555"/>
<ellipse cx="247.5" cy="202.2" rx="0.7" ry="0.8" stroke-width="0.59" fill="#555"/>
<ellipse cx="237.0" cy="207.8" rx="0.7" ry="0.8" stroke-width="0.59" fill="#555"/>
<ellipse cx="247.0" cy="213.1" rx="0.7" ry="0.8" stroke-width="0.59" fill="#555"/>
</g>
<g id="left_small">
<ellipse cx="100.3" cy="255.8" rx="4.2" ry="5.8" stroke-width="1.30" stroke="#333" fill="#ccc" transform="rotate(-25.0 100.3 255.8)"/>
<ellipse cx="100.3" cy="255.8" rx="2.6" ry="3.9" stroke-width="0.83" stroke="#444" fill="#ddd" transform="rotate(-25.0 100.3 255.8)"/>
<ellipse cx="100.5" cy="256.0" rx="1.3" ry="2.2" stroke-width="0.71" fill="#fff" transform="rotate(-25.0 100.5 256.0)"/>
<path d="M97.5 277.1 L98.6 276.5 L99.9 276.1 L101.1 276.0 L102.4 276.1 L103.8 276.5 L105.0 277.1 L106.3 278.0 L107.4 279.1 L108.4 280.4 L109.3 281.8 L110.0 283.4 L110.6 285.0 L111.0 286.7 L111.2 288.5 L111.2 290.2 L111.0 291.8 L110.6 293.4 L110.0 294.8 L109.3 296.1 L108.4 297.2 L107.4 298.1 L106.3 298.7 L105.0 299.1 L103.8 299.2 L97.4 300.8 L98.7 300.7 L99.9 300.3 L101.1 299.6 L102.1 298.8 L103.1 297.6 L103.8 296.4 L104.4 294.9 L104.8 293.3 L105.0 291.6 L105.0 289.9 L104.8 288.1 L104.4 286.4 L103.8 284.7 L103.1 283.1 L102.2 281.6 L101.1 280.3 L100.0 279.2 L98.7 278.4 L97.4 277.7 L96.1 277.3 L94.7 277.2 L93.4 277.3 L92.2 277.7 L91.0 278.3 Z" stroke-width="1.06" fill="#aaa"/>
<path d="M93.3 277.6 L94.5 277.2 L95.7 276.9 L97.0 276.9 L98.2 277.2 L99.5 277.7 L100.7 278.4 L101.9 279.3 L103.0 280.4 L104.0 281.7 L104.8 283.2 L105.5 284.7 L106.0 286.3 L106.3 288.0 L106.5 289.7 L106.5 291.4 L106.3 293.0 L105.9 294.5 L105.3 295.9 L104.6 297.2 L103.8 298.2 L102.8 299.1 L101.7 299.8 L100.5 300.2 L99.3 300.4" stroke-width="0.59" stroke="#333"/>
<path d="M94.9 277.3 L96.1 276.8 L97.3 276.6 L98.6 276.6 L99.8 276.8 L101.1 277.3 L102.3 278.1 L103.5 279.0 L104.6 280.1 L105.6 281.4 L106.4 282.8 L107.1 284.4 L107.6 286.0 L107.9 287.7 L108.1 289.4 L108.1 291.0 L107.9 292.6 L107.5 294.2 L106.9 295.6 L106.2 296.8 L105.4 297.9 L104.4 298.8 L103.3 299.4 L102.1 299.8 L100.9 300.0" stroke-width="0.59" stroke="#333"/>
<path d="M96.5 276.9 L97.7 276.5 L98.9 276.2 L100.2 276.2 L101.4 276.5 L102.7 277.0 L103.9 277.7 L105.1 278.6 L106.2 279.7 L107.2 281.0 L108.0 282.5 L108.7 284.0 L109.2 285.6 L109.5 287.3 L109.7 289.0 L109.7 290.7 L109.5 292.3 L109.1 293.8 L108.5 295.2 L107.8 296.5 L107.0 297.5 L106.0 298.4 L104.9 299.1 L103.7 299.5 L102.5 299.7" stroke-width="0.59" stroke="#333"/>
<ellipse cx="96.0" cy="289.0" rx="8.8" ry="12.0" stroke-width="1.06" fill="#fff" transform="rotate(-14.0 96.0 289.0)"/>
<ellipse cx="96.2" cy="289.2" rx="5.8" ry="8.3" stroke-width="1.06" fill="#fff" transform="rotate(-14.0 96.2 289.2)"/>
<path d="M96.6 281.2 L97.2 281.3 L97.8 281.4 L98.3 281.6 L98.9 281.9 L99.4 282.2 L100.0 282.7 L100.5 283.1 L100.9 283.7 L101.4 284.3 L101.8 285.0 L102.1 285.7 L102.4 286.4 L102.7 287.1 L102.9 287.9 L103.0 288.7 L103.1 289.5 L103.2 290.3 L103.2 291.1 L103.1 291.8 L102.9 292.5 L102.8 293.2 L102.5 293.9 L102.2 294.4 L101.9 295.0" stroke-width="0.71"/>
<path d="M88.1 298.3 L84.4 301.9 L80.0 300.0 L79.1 294.5 L82.8 290.9 L87.2 292.8 Z" stroke-width="0.94" fill="#fff"/>
<ellipse cx="83.6" cy="296.4" rx="1.7" ry="2.0" stroke-width="0.94"/>
<ellipse cx="81.8" cy="294.4" rx="1.6" ry="1.9" stroke-width="0.71"/>
<ellipse cx="85.2" cy="294.2" rx="1.6" ry="1.9" stroke-width="0.71"/>
<ellipse cx="82.0" cy="298.4" rx="1.6" ry="1.9" stroke-width="0.71"/>
<ellipse cx="85.4" cy="298.2" rx="1.6" ry="1.9" stroke-width="0.71"/>
</g>
<g id="mid_small">
<path d="M223.7 234.8 C223.9 233.7 225.1 232.1 226.2 231.3 C227.4 230.5 229.3 230.1 230.6 230.1 C232.0 230.1 233.6 230.6 234.3 231.3 C235.0 232.0 235.2 233.2 234.9 234.1 C234.5 235.0 233.3 236.1 232.3 236.8 C231.3 237.5 229.8 238.3 228.6 238.4 C227.4 238.5 225.7 238.1 224.9 237.5 C224.1 236.9 223.5 235.8 223.7 234.8 Z" stroke-width="1.06" fill="#fff"/>
<path d="M226.2 234.1 C226.2 233.4 226.9 232.4 227.7 232.0 C228.5 231.5 230.1 231.2 231.0 231.3 C231.9 231.4 232.8 232.0 233.1 232.6 C233.4 233.2 233.1 234.2 232.6 234.8 C232.2 235.4 231.4 236.0 230.6 236.3 C229.8 236.5 228.4 236.8 227.7 236.5 C227.0 236.1 226.2 234.9 226.2 234.1 Z" stroke-width="0.83"/>
<path d="M229.9 231.4 L231.0 234.1 L229.6 236.5" stroke-width="0.83"/>
<path d="M218.3 248.0 L220.4 248.0 L220.4 252.3 L218.3 252.3 Z" stroke-width="0.83" fill="#ccc"/>
<path d="M218.3 248.9 L220.4 248.9" stroke-width="0.59"/>
<path d="M218.3 249.9 L220.4 249.9" stroke-width="0.59"/>
<path d="M218.3 251.0 L220.4 251.0" stroke-width="0.59"/>
<path d="M216.8 253.0 C217.3 252.3 218.5 252.3 219.4 252.3 C220.2 252.3 221.4 252.3 221.8 253.0 C222.2 253.6 222.1 255.5 221.9 256.3 C221.8 257.2 221.5 257.8 220.8 258.1 C220.2 258.4 218.5 258.4 217.8 258.1 C217.1 257.8 216.8 257.2 216.7 256.3 C216.5 255.5 216.4 253.6 216.8 253.0 Z" stroke-width="0.94" fill="#ddd"/>
<path d="M216.8 254.7 L221.9 254.7" stroke-width="0.71"/>
<path d="M217.2 256.7 L221.4 256.7" stroke-width="0.71"/>
</g>
<g id="right_small">
<path d="M277.4 283.4 C277.2 284.4 276.0 285.7 275.1 286.0 C274.2 286.2 272.7 285.8 272.0 285.0 C271.3 284.3 270.9 282.6 271.2 281.6 C271.4 280.6 272.6 279.3 273.5 279.0 C274.4 278.8 275.9 279.2 276.6 280.0 C277.3 280.7 277.7 282.4 277.4 283.4 Z" stroke-width="0.94" fill="#ccc"/>
<ellipse cx="274.5" cy="282.7" rx="1.6" ry="2.0" stroke-width="0.94" fill="#fff" transform="rotate(-20.0 274.5 282.7)"/>
<path d="M313.2 283.3 C313.0 284.3 311.9 285.5 311.0 285.8 C310.1 286.0 308.6 285.6 308.0 284.9 C307.3 284.2 306.9 282.5 307.2 281.5 C307.4 280.5 308.5 279.3 309.4 279.0 C310.3 278.8 311.8 279.2 312.4 279.9 C313.1 280.6 313.5 282.3 313.2 283.3 Z" stroke-width="0.94" fill="#ccc"/>
<ellipse cx="310.4" cy="282.6" rx="1.6" ry="1.9" stroke-width="0.94" fill="#fff" transform="rotate(-20.0 310.4 282.6)"/>
<path d="M321.9 278.3 C321.7 279.3 320.5 280.6 319.6 280.9 C318.7 281.1 317.2 280.7 316.5 279.9 C315.8 279.2 315.4 277.5 315.7 276.5 C315.9 275.5 317.1 274.2 318.0 273.9 C318.9 273.7 320.4 274.1 321.1 274.9 C321.8 275.6 322.2 277.3 321.9 278.3 Z" stroke-width="0.94" fill="#ccc"/>
<ellipse cx="319.0" cy="277.6" rx="1.6" ry="2.0" stroke-width="0.94" fill="#fff" transform="rotate(-20.0 319.0 277.6)"/>
<path d="M292.2 290.1 C292.3 288.8 293.0 287.5 294.1 286.4 C295.3 285.3 297.5 284.1 299.0 283.4 C300.4 282.8 301.6 282.4 302.7 282.6 C303.8 282.8 304.9 283.7 305.4 284.7 C305.9 285.8 306.2 287.7 305.9 288.8 C305.7 289.9 304.9 290.4 303.8 291.1 C302.6 291.9 300.2 292.5 299.0 293.1 C297.7 293.7 297.2 294.5 296.3 294.7 C295.4 294.9 294.3 294.9 293.6 294.1 C292.9 293.4 292.1 291.4 292.2 290.1 Z" stroke-width="1.06" fill="#fff"/>
<ellipse cx="294.5" cy="291.8" rx="2.4" ry="3.0" stroke-width="1.30" stroke="#222" fill="#aaa" transform="rotate(-25.0 294.5 291.8)"/>
<ellipse cx="294.5" cy="291.8" rx="1.0" ry="1.3" stroke-width="0.71" fill="#fff" transform="rotate(-25.0 294.5 291.8)"/>
<path d="M297.4 286.1 L299.0 293.1" stroke-width="0.83"/>
<path d="M301.1 284.0 L302.7 291.5" stroke-width="0.83"/>
<path d="M297.9 288.8 L302.2 286.9" stroke-width="0.71"/>
<path d="M322.6 288.8 C322.8 287.4 323.5 285.2 324.7 284.0 C325.8 282.8 327.9 281.8 329.5 281.5 C331.1 281.2 333.0 281.6 334.0 282.4 C335.0 283.1 335.8 284.8 335.7 286.1 C335.7 287.4 334.6 289.2 333.8 290.4 C332.9 291.6 331.8 292.4 330.6 293.1 C329.3 293.7 327.4 294.2 326.3 294.1 C325.1 294.1 324.2 293.4 323.6 292.5 C323.0 291.6 322.5 290.2 322.6 288.8 Z" stroke-width="1.06" fill="#fff"/>
<ellipse cx="326.5" cy="289.4" rx="3.3" ry="4.3" stroke-width="1.30" stroke="#222" transform="rotate(-30.0 326.5 289.4)"/>
<ellipse cx="326.8" cy="289.6" rx="2.2" ry="3.1" stroke-width="0.83" transform="rotate(-30.0 326.8 289.6)"/>
<path d="M329.0 282.9 C329.4 283.4 331.1 284.9 331.6 286.1 C332.2 287.4 332.1 289.7 332.2 290.4" stroke-width="0.83"/>
<path d="M331.4 281.9 C331.9 282.5 333.6 284.1 334.0 285.4 C334.4 286.6 334.0 288.9 334.0 289.6" stroke-width="0.83"/>
<path d="M335.1 282.6 C335.5 282.0 336.5 279.8 337.5 279.1 C338.6 278.5 340.2 278.2 341.3 278.6 C342.4 279.1 343.6 280.3 344.3 281.8 C345.0 283.3 345.5 285.7 345.4 287.7 C345.3 289.8 343.8 291.8 343.6 294.1 C343.5 296.5 344.2 300.6 344.3 301.9" stroke-width="2.83" stroke="#333"/>
<path d="M335.1 282.6 C335.5 282.0 336.5 279.8 337.5 279.1 C338.6 278.5 340.2 278.2 341.3 278.6 C342.4 279.1 343.6 280.3 344.3 281.8 C345.0 283.3 345.5 285.7 345.4 287.7 C345.3 289.8 343.8 291.8 343.6 294.1 C343.5 296.5 344.2 300.6 344.3 301.9" stroke-width="1.18" stroke="#fff"/>
<path d="M341.1 302.5 L347.2 301.9 L350.9 307.5 L350.5 313.4 L347.2 315.4 L341.8 312.4 L340.8 308.1 Z" stroke-width="1.06" fill="#fff"/>
<path d="M341.1 302.5 L344.5 307.0 L350.9 307.5" stroke-width="0.83"/>
<path d="M344.5 307.0 L344.7 313.4" stroke-width="0.83"/>
<path d="M340.8 308.1 L344.7 310.2 L350.5 309.7" stroke-width="0.83"/>
<path d="M318.8 299.7 L322.0 300.8 L326.1 298.4 L330.6 302.5 L337.0 303.8 L339.4 319.9 L332.9 318.1 L330.6 308.3 L326.5 307.0 L323.6 303.6 L319.4 301.4 Z" stroke-width="1.06" fill="#fff"/>
<ellipse cx="326.9" cy="302.3" rx="1.2" ry="1.5" stroke-width="0.83"/>
<ellipse cx="334.0" cy="309.1" rx="1.4" ry="1.7" stroke-width="0.83"/>
<path d="M330.6 302.5 L331.4 308.1 L337.0 310.2" stroke-width="0.83"/>
<ellipse cx="319.2" cy="300.1" rx="0.9" ry="0.9" stroke-width="0.71" fill="#555"/>
<path d="M312.2 312.1 L318.2 308.9 L317.0 306.7 L311.0 309.9 Z" stroke-width="0.83" fill="#999"/>
<line x1="313.4" y1="311.4" x2="312.2" y2="309.3" stroke-width="0.59" stroke="#333"/>
<line x1="314.6" y1="310.8" x2="313.4" y2="308.7" stroke-width="0.59" stroke="#333"/>
<line x1="315.8" y1="310.1" x2="314.6" y2="308.0" stroke-width="0.59" stroke="#333"/>
<line x1="317.0" y1="309.5" x2="315.8" y2="307.4" stroke-width="0.59" stroke="#333"/>
<path d="M318.5 309.6 L320.8 308.3 L319.0 304.8 L316.7 306.0 Z" stroke-width="1.06" fill="#888"/>
<path d="M302.7 309.1 C303.0 308.2 303.6 307.1 304.3 306.8 C305.0 306.4 306.3 306.4 307.0 307.0 C307.7 307.6 308.4 308.8 308.6 310.2 C308.8 311.6 308.6 314.3 308.3 315.6 C307.9 316.8 307.3 317.6 306.5 317.7 C305.6 317.8 303.9 317.0 303.3 316.1 C302.6 315.2 302.6 313.5 302.5 312.4 C302.4 311.2 302.4 310.1 302.7 309.1 Z" stroke-width="1.06" fill="#fff"/>
<ellipse cx="305.4" cy="309.1" rx="1.1" ry="1.4" stroke-width="0.83"/>
<ellipse cx="305.1" cy="314.7" rx="0.9" ry="1.1" stroke-width="0.83"/>
<path d="M302.7 312.1 L308.3 312.4" stroke-width="0.83"/>
</g>
<g id="p12">
<path d="M260.4 312.6 C260.3 310.7 260.8 309.7 261.5 308.5 C262.1 307.4 261.8 307.2 264.0 305.6 C266.2 304.1 271.6 300.1 274.5 299.1 C277.3 298.1 279.5 299.3 281.3 299.6 C283.1 300.0 283.9 300.1 285.4 301.1 C286.8 302.0 288.3 303.5 289.9 305.4 C291.5 307.2 293.4 309.8 294.9 312.2 C296.4 314.5 297.5 317.1 298.7 319.5 C299.9 321.8 301.7 324.9 302.2 326.5 C302.6 328.2 302.3 328.5 301.5 329.3 C300.6 330.1 297.9 330.2 296.9 331.5 C295.9 332.7 295.8 335.5 295.4 336.7 C294.9 338.0 295.7 337.8 294.0 339.0 C292.3 340.2 287.5 343.2 285.4 344.0 C283.2 344.8 283.1 344.2 281.3 343.6 C279.4 343.0 276.2 342.0 274.2 340.4 C272.1 338.8 270.5 336.0 269.0 334.0 C267.5 332.0 266.6 330.8 265.4 328.5 C264.2 326.3 262.6 323.0 261.7 320.4 C260.9 317.7 260.4 314.6 260.4 312.6 Z" stroke-width="1.06" fill="#fff"/>
<path d="M274.5 303.8 C275.0 304.1 276.7 304.5 277.8 305.6 C279.0 306.7 280.0 308.4 281.3 310.4 C282.5 312.4 284.2 315.2 285.4 317.6 C286.6 320.1 287.8 322.6 288.5 324.9 C289.3 327.2 289.9 329.3 289.9 331.3 C289.9 333.2 289.3 335.1 288.5 336.7 C287.8 338.4 285.9 340.5 285.4 341.3" stroke-width="0.94"/>
<path d="M264.0 305.6 C264.6 305.5 265.9 305.0 267.6 304.7 C269.4 304.4 272.2 304.7 274.5 303.8 C276.7 303.0 280.1 300.3 281.3 299.6" stroke-width="0.83"/>
<path d="M273.1 304.9 C273.7 305.2 275.5 305.6 276.7 306.7 C278.0 307.9 279.3 309.8 280.5 311.7 C281.8 313.7 283.3 316.3 284.5 318.5 C285.6 320.8 286.7 323.2 287.5 325.4 C288.2 327.5 288.5 330.3 288.7 331.3" stroke-width="0.71"/>
<path d="M287.5 314.5 L294.0 311.6" stroke-width="0.94"/>
<path d="M288.2 316.9 L295.1 313.6" stroke-width="0.94"/>
<path d="M269.5 309.0 C270.1 307.6 272.2 307.5 273.5 307.6 C274.9 307.8 276.9 308.7 277.8 309.9 C278.8 311.1 279.4 313.4 279.3 314.9 C279.2 316.4 278.3 318.1 277.2 319.0 C276.1 319.9 273.8 320.9 272.6 320.4 C271.4 319.8 270.4 317.7 269.9 315.8 C269.4 313.9 268.8 310.4 269.5 309.0 Z" stroke-width="1.06" fill="#a8a8a8"/>
<path d="M271.7 311.3 C272.0 310.0 273.7 310.0 274.5 310.4 C275.3 310.7 276.4 312.4 276.5 313.5 C276.7 314.7 276.0 316.5 275.4 317.2 C274.7 317.9 273.2 318.8 272.6 317.8 C272.0 316.8 271.4 312.5 271.7 311.3 Z" stroke-width="0.71" fill="#fff"/>
<path d="M270.8 313.5 L277.6 312.2" stroke-width="1.18"/>
<path d="M272.6 324.0 C272.6 322.5 275.3 321.7 276.7 321.3 C278.2 320.9 280.2 321.0 281.3 321.7 C282.3 322.5 282.7 324.1 283.1 325.8 C283.5 327.6 283.8 330.8 283.5 332.2 C283.2 333.5 282.4 334.3 281.3 334.0 C280.1 333.7 278.2 332.0 276.7 330.4 C275.3 328.7 272.6 325.5 272.6 324.0 Z" stroke-width="1.06" fill="#a8a8a8"/>
<path d="M275.8 324.9 C276.0 324.0 278.1 323.3 279.0 323.5 C279.9 323.8 280.8 325.2 281.1 326.3 C281.3 327.3 281.1 329.5 280.5 329.9 C280.0 330.4 278.6 329.8 277.8 329.0 C277.0 328.2 275.6 325.8 275.8 324.9 Z" stroke-width="0.71" fill="#fff"/>
<path d="M274.9 326.7 L282.2 325.4" stroke-width="1.18"/>
<path d="M265.1 326.0 L271.1 323.1" stroke-width="1.53"/>
<path d="M270.9 334.5 L275.8 332.5" stroke-width="1.53"/>
<path d="M273.5 337.6 L278.5 335.4" stroke-width="0.83"/>
<path d="M274.5 339.0 L279.5 336.7" stroke-width="0.83"/>
<path d="M284.5 326.7 C284.7 325.4 285.8 324.5 286.7 324.5 C287.6 324.5 289.2 325.6 289.9 326.7 C290.7 327.9 291.2 329.9 291.3 331.3 C291.3 332.6 291.0 334.2 290.4 334.9 C289.8 335.6 288.5 335.8 287.6 335.4 C286.8 334.9 285.9 333.6 285.4 332.2 C284.8 330.7 284.2 328.0 284.5 326.7 Z" stroke-width="1.06" fill="#fff"/>
<path d="M286.3 327.6 L287.2 334.0" stroke-width="1.42" stroke="#555"/>
<path d="M288.4 328.1 L289.3 334.0" stroke-width="0.83"/>
<path d="M290.4 334.9 L296.7 331.5" stroke-width="0.94"/>
<path d="M285.4 336.7 L294.0 333.1 L301.5 329.3" stroke-width="0.83"/>
</g>
<g id="p10">
<path d="M219.8 343.1 L204.4 328.2 L204.4 361.6 L212.7 369.6"/>
<path d="M197.3 337.4 L204.4 344.0"/>
<path d="M204.4 352.8 L213.6 360.8"/>
<path d="M217.3 352.0 C217.6 350.4 218.2 348.0 219.1 346.8 C219.9 345.7 221.0 345.0 222.4 345.1 C223.9 345.1 226.0 347.0 227.7 347.1 C229.4 347.2 231.4 345.6 232.6 345.8 C233.7 346.0 234.2 347.3 234.6 348.4 C235.0 349.6 235.0 351.4 234.8 352.8 C234.5 354.2 234.2 355.7 233.0 356.8 C231.8 357.9 229.2 358.7 227.7 359.4 C226.2 360.2 225.5 361.2 224.2 361.2 C222.9 361.2 220.9 360.3 219.8 359.4 C218.7 358.6 218.0 357.2 217.6 355.9 C217.2 354.7 217.1 353.5 217.3 352.0 Z" stroke-width="1.06" fill="#fff"/>
<path d="M220.3 339.4 L226.4 335.7 L231.4 338.7 L230.9 345.1 L225.1 347.7 L220.7 345.1 Z" stroke-width="1.06" fill="#fff"/>
<path d="M220.3 339.4 L225.5 342.1 L231.4 338.7" stroke-width="0.83"/>
<path d="M225.5 342.1 L225.1 347.7" stroke-width="0.83"/>
<path d="M223.3 338.3 L226.0 337.0 L228.2 338.3 L225.8 339.6 Z" stroke-width="0.71"/>
<ellipse cx="222.4" cy="355.3" rx="4.3" ry="5.8" stroke-width="1.53" stroke="#222" fill="#fff" transform="rotate(-20.0 222.4 355.3)"/>
<path d="M226.0 348.4 C226.3 349.0 227.7 350.6 228.2 352.0 C228.6 353.4 228.8 355.5 228.6 356.8 C228.4 358.1 227.1 359.4 226.8 359.9" stroke-width="0.94"/>
<path d="M228.4 352.0 L234.6 349.3" stroke-width="0.94"/>
<path d="M228.8 355.0 L234.8 352.4" stroke-width="0.94"/>
<path d="M228.8 356.8 L233.7 354.6" stroke-width="0.71"/>
<path d="M227.7 347.1 L230.8 345.1" stroke-width="0.83"/>
<ellipse cx="231.2" cy="346.2" rx="1.3" ry="1.5" stroke-width="0.83" fill="#666"/>
<path d="M228.6 348.4 L232.1 348.4 L233.0 351.1" stroke-width="0.94" stroke="#444"/>
<path d="M219.1 356.8 L222.4 352.8" stroke-width="0.71"/>
<path d="M218.0 355.0 C217.6 355.3 216.1 355.8 215.6 356.5 C215.0 357.3 214.8 359.0 214.7 359.4" stroke-width="0.83"/>
<path d="M213.9 359.7 L216.4 359.7 L216.4 365.9 L213.9 365.9 Z" stroke-width="0.83" fill="#999"/>
<path d="M213.9 361.2 L216.4 361.2" stroke-width="0.59"/>
<path d="M213.9 362.7 L216.4 362.7" stroke-width="0.59"/>
<path d="M213.9 364.3 L216.4 364.3" stroke-width="0.59"/>
<path d="M213.3 369.1 L216.4 368.5 L217.0 374.0 L213.6 374.3 Z" stroke-width="1.06" fill="#aaa"/>
<path d="M236.5 344.3 L242.1 341.8 L241.1 339.6 L235.5 342.1 Z" stroke-width="0.83" fill="#999"/>
<line x1="237.6" y1="343.8" x2="236.6" y2="341.6" stroke-width="0.59" stroke="#333"/>
<line x1="238.7" y1="343.3" x2="237.8" y2="341.1" stroke-width="0.59" stroke="#333"/>
<line x1="239.8" y1="342.8" x2="238.9" y2="340.6" stroke-width="0.59" stroke="#333"/>
<line x1="241.0" y1="342.3" x2="240.0" y2="340.1" stroke-width="0.59" stroke="#333"/>
<path d="M242.5 342.6 L244.8 341.6 L243.1 337.7 L240.7 338.8 Z" stroke-width="1.06" fill="#888"/>
<ellipse cx="242.0" cy="340.1" rx="1.7" ry="2.1" stroke-width="0.94" fill="#555" transform="rotate(-20.0 242.0 340.1)"/>
<path d="M246.9 332.6 C246.9 330.6 247.8 328.9 248.9 328.0 C249.9 327.1 251.7 326.9 253.3 327.1 C254.8 327.3 256.7 327.7 258.1 329.0 C259.6 330.4 261.1 333.4 261.9 335.2 C262.7 337.1 263.0 338.7 262.8 340.1 C262.6 341.5 261.8 342.8 260.8 343.6 C259.8 344.4 258.2 344.7 256.8 344.7 C255.4 344.7 253.7 344.4 252.4 343.6 C251.1 342.7 249.8 341.5 248.9 339.6 C248.0 337.8 246.9 334.5 246.9 332.6 Z" stroke-width="1.06" fill="#fff"/>
<ellipse cx="253.4" cy="336.8" rx="4.6" ry="6.6" stroke-width="1.30" transform="rotate(-28.0 253.4 336.8)"/>
<ellipse cx="254.0" cy="336.8" rx="3.3" ry="5.2" stroke-width="0.83" transform="rotate(-28.0 254.0 336.8)"/>
<path d="M248.9 328.0 C249.5 328.5 250.9 330.4 252.4 330.8 C253.9 331.2 256.1 329.6 257.7 330.4 C259.3 331.1 261.2 334.4 261.9 335.2" stroke-width="0.83"/>
<path d="M254.1 333.5 L257.7 340.9" stroke-width="1.18" stroke="#555"/>
<path d="M256.8 344.7 L257.7 340.9 L262.8 340.1" stroke-width="0.83"/>
</g>
<g id="p9_11">
<path d="M173.5 365.7 C174.0 363.3 175.5 362.1 177.5 360.4 C179.6 358.8 183.7 356.2 185.9 355.8 C188.0 355.5 189.3 357.1 190.3 358.1 C191.2 359.2 191.5 360.8 191.5 362.0 C191.5 363.3 191.1 364.7 190.3 365.7 C189.4 366.7 186.5 366.7 186.4 368.0 C186.3 369.3 187.9 370.1 189.5 373.5 C191.2 376.9 195.2 385.4 196.3 388.4 C197.4 391.5 196.7 390.6 195.9 392.0 C195.1 393.3 192.8 396.1 191.3 396.6 C189.8 397.1 189.2 397.8 187.1 395.1 C185.0 392.4 180.9 383.9 178.8 380.5 C176.7 377.1 175.5 377.0 174.6 374.5 C173.7 372.1 173.1 368.0 173.5 365.7 Z" stroke-width="1.06" fill="#fff"/>
<path d="M177.5 360.4 C178.1 360.8 179.9 361.5 180.9 362.3 C181.8 363.2 182.0 364.7 182.9 365.7 C183.9 366.6 185.8 367.6 186.4 368.0" stroke-width="0.94"/>
<path d="M180.9 359.9 C181.0 360.1 181.5 360.8 181.7 361.0" stroke-width="0.83"/>
<path d="M174.2 366.5 C173.8 365.5 175.2 365.0 176.5 365.7 C177.7 366.3 180.4 368.9 181.7 370.4 C183.0 371.8 184.2 373.7 184.3 374.5 C184.4 375.4 183.2 376.1 182.2 375.6 C181.3 375.1 179.9 372.9 178.6 371.4 C177.2 369.9 174.5 367.5 174.2 366.5 Z" stroke-width="0.83" fill="#777"/>
<path d="M175.2 372.5 L178.8 378.0 L182.5 375.9" stroke-width="0.83"/>
<path d="M178.8 380.5 L188.0 375.7" stroke-width="0.94"/>
<path d="M180.1 382.9 L185.9 380.1" stroke-width="0.71"/>
<path d="M186.4 368.0 C186.6 369.3 186.6 372.1 188.0 375.7 C189.3 379.3 193.2 387.4 194.2 389.7" stroke-width="0.71"/>
<ellipse cx="189.2" cy="394.4" rx="1.6" ry="1.0" stroke-width="0.83" transform="rotate(-30.0 189.2 394.4)"/>
<path d="M191.3 396.6 L193.2 391.3 L196.3 388.4" stroke-width="0.83"/>
<path d="M190.3 372.6 L193.8 370.9 L201.7 384.7 L198.4 386.3 Z" stroke-width="0.83" fill="#666"/>
<path d="M191.4 374.5 L194.9 372.9" stroke-width="0.59" stroke="#222"/>
<path d="M192.6 376.5 L196.1 374.8" stroke-width="0.59" stroke="#222"/>
<path d="M193.7 378.5 L197.2 376.8" stroke-width="0.59" stroke="#222"/>
<path d="M194.9 380.4 L198.3 378.8" stroke-width="0.59" stroke="#222"/>
<path d="M196.1 382.4 L199.5 380.7" stroke-width="0.59" stroke="#222"/>
<path d="M197.2 384.4 L200.6 382.7" stroke-width="0.59" stroke="#222"/>
<path d="M205.4 385.2 L212.2 381.4 L211.0 379.4 L204.2 383.2 Z" stroke-width="0.83" fill="#999"/>
<line x1="206.5" y1="384.6" x2="205.3" y2="382.5" stroke-width="0.59" stroke="#333"/>
<line x1="207.7" y1="384.0" x2="206.5" y2="381.9" stroke-width="0.59" stroke="#333"/>
<line x1="208.8" y1="383.3" x2="207.6" y2="381.3" stroke-width="0.59" stroke="#333"/>
<line x1="209.9" y1="382.7" x2="208.7" y2="380.6" stroke-width="0.59" stroke="#333"/>
<line x1="211.1" y1="382.1" x2="209.9" y2="380.0" stroke-width="0.59" stroke="#333"/>
<path d="M212.6 382.2 L215.1 380.9 L213.0 377.2 L210.6 378.6 Z" stroke-width="1.06" fill="#888"/>
<ellipse cx="213.6" cy="380.1" rx="1.8" ry="2.2" stroke-width="0.94" fill="#555" transform="rotate(-20.0 213.6 380.1)"/>
<path d="M147.0 377.4 C147.4 375.4 148.2 373.6 149.3 372.5 C150.4 371.3 152.4 370.7 153.5 370.7 C154.6 370.7 155.8 371.5 155.8 372.5 C155.8 373.4 154.5 374.8 153.7 376.1 C152.9 377.4 151.2 378.4 150.9 380.3 C150.6 382.2 151.1 385.0 151.9 387.6 C152.7 390.2 154.0 393.7 155.6 396.0 C157.1 398.2 159.4 400.1 161.3 401.2 C163.2 402.2 165.7 403.1 167.1 402.2 C168.4 401.3 168.6 396.5 169.4 396.0 C170.1 395.4 171.2 397.7 171.8 399.1 C172.3 400.5 172.6 402.9 172.5 404.3 C172.4 405.7 172.8 407.2 171.2 407.7 C169.7 408.1 165.9 408.1 163.4 407.2 C160.9 406.4 158.4 404.9 156.1 402.7 C153.8 400.6 151.3 397.4 149.8 394.4 C148.4 391.3 147.7 387.3 147.2 384.5 C146.8 381.6 146.7 379.4 147.0 377.4 Z" stroke-width="1.06" fill="#fff"/>
<path d="M155.8 364.8 C156.6 363.4 159.4 362.4 160.8 362.5 C162.2 362.7 163.2 363.4 164.1 365.7 C165.0 367.9 165.8 373.5 166.2 376.1 C166.6 378.7 166.9 379.9 166.6 381.3 C166.4 382.8 165.4 384.3 164.5 385.0 C163.5 385.7 162.1 386.6 161.0 385.7 C159.9 384.8 158.7 382.1 157.9 379.8 C157.0 377.4 156.1 373.9 155.8 371.4 C155.4 368.9 155.0 366.3 155.8 364.8 Z" stroke-width="1.06" fill="#fff"/>
<path d="M161.8 363.4 C162.2 364.6 163.6 367.7 164.1 370.9 C164.7 374.1 164.8 380.5 165.0 382.4" stroke-width="2.24" stroke="#444"/>
<path d="M157.7 372.5 C158.1 372.8 159.5 373.2 160.3 374.5 C161.1 375.8 162.0 379.3 162.4 380.3" stroke-width="1.42" stroke="#555"/>
<ellipse cx="158.3" cy="368.0" rx="1.3" ry="1.6" stroke-width="0.83"/>
<ellipse cx="157.2" cy="377.8" rx="1.9" ry="2.3" stroke-width="0.94"/>
<ellipse cx="158.7" cy="381.3" rx="1.3" ry="1.5" stroke-width="0.83"/>
<ellipse cx="166.2" cy="399.3" rx="2.4" ry="2.8" stroke-width="1.18" fill="#fff"/>
<ellipse cx="166.2" cy="399.3" rx="1.1" ry="1.3" stroke-width="0.83" fill="#777"/>
<ellipse cx="163.4" cy="396.0" rx="1.3" ry="1.5" stroke-width="0.83" fill="#666"/>
<ellipse cx="169.7" cy="396.8" rx="1.5" ry="1.8" stroke-width="0.83"/>
<path d="M153.3 386.8 C153.6 385.6 155.1 384.8 156.1 385.0 C157.1 385.1 158.2 386.2 159.2 387.6 C160.3 389.0 162.0 391.9 162.4 393.3 C162.7 394.8 162.1 396.0 161.3 396.5 C160.5 396.9 158.8 396.7 157.7 396.0 C156.5 395.2 155.1 393.3 154.3 391.8 C153.6 390.2 153.0 387.9 153.3 386.8 Z" stroke-width="0.94" fill="#888"/>
<path d="M154.3 387.8 L157.7 386.0" stroke-width="0.59" stroke="#fff"/>
<path d="M155.7 389.2 L158.6 387.5" stroke-width="0.59" stroke="#fff"/>
<path d="M157.0 390.5 L159.5 389.0" stroke-width="0.59" stroke="#fff"/>
<path d="M158.4 391.9 L160.5 390.4" stroke-width="0.59" stroke="#fff"/>
<path d="M159.8 393.2 L161.4 391.9" stroke-width="0.59" stroke="#fff"/>
<path d="M161.1 394.6 L162.4 393.3" stroke-width="0.59" stroke="#fff"/>
<path d="M149.3 381.3 C149.6 382.7 150.0 387.1 150.9 389.7 C151.7 392.3 153.9 395.8 154.5 397.0" stroke-width="0.71"/>
<path d="M151.9 376.1 C152.0 377.0 152.4 380.5 152.4 381.3" stroke-width="0.71"/>
<path d="M152.4 391.8 L153.7 393.9" stroke-width="1.89" stroke="#444"/>
<path d="M172.9 358.3 L163.9 363.1 L164.9 364.9 L173.9 360.1 Z" stroke-width="0.83" fill="#999"/>
<line x1="171.8" y1="358.9" x2="172.7" y2="360.7" stroke-width="0.59" stroke="#333"/>
<line x1="170.7" y1="359.5" x2="171.6" y2="361.3" stroke-width="0.59" stroke="#333"/>
<line x1="169.6" y1="360.1" x2="170.5" y2="361.9" stroke-width="0.59" stroke="#333"/>
<line x1="168.4" y1="360.7" x2="169.4" y2="362.5" stroke-width="0.59" stroke="#333"/>
<line x1="167.3" y1="361.3" x2="168.2" y2="363.1" stroke-width="0.59" stroke="#333"/>
<line x1="166.2" y1="361.9" x2="167.1" y2="363.7" stroke-width="0.59" stroke="#333"/>
<line x1="165.1" y1="362.5" x2="166.0" y2="364.3" stroke-width="0.59" stroke="#333"/>
<path d="M164.4 364.0 L164.4 364.0 L164.4 364.0 L164.4 364.0 Z" stroke-width="1.06" fill="#888"/>
</g>
<g id="p8">
<path d="M115.8 380.7 C115.6 381.7 114.4 383.0 113.5 383.3 C112.6 383.5 111.1 383.1 110.4 382.3 C109.7 381.6 109.3 379.9 109.6 378.9 C109.8 377.9 111.0 376.6 111.9 376.3 C112.8 376.1 114.3 376.5 115.0 377.3 C115.7 378.0 116.1 379.7 115.8 380.7 Z" stroke-width="0.94" fill="#ccc"/>
<ellipse cx="112.9" cy="380.0" rx="1.6" ry="2.0" stroke-width="0.94" fill="#fff" transform="rotate(-20.0 112.9 380.0)"/>
<path d="M90.0 389.5 C90.4 388.1 91.7 387.8 92.9 386.9 C94.1 386.1 95.3 384.3 97.1 384.4 C99.0 384.5 101.6 387.0 103.9 387.4 C106.1 387.7 108.4 386.2 110.6 386.5 C112.8 386.9 115.0 388.2 117.3 389.5 C119.7 390.7 123.8 392.5 124.9 394.1 C126.0 395.6 123.1 397.5 124.1 398.7 C125.0 399.9 129.1 400.1 130.8 401.2 C132.5 402.4 133.2 403.6 134.2 405.4 C135.1 407.3 136.0 409.8 136.7 412.2 C137.4 414.6 138.2 419.6 138.5 419.7 C138.9 419.9 138.7 412.6 138.7 413.0 C138.6 413.4 138.8 418.6 138.3 422.1 C137.8 425.6 136.5 430.2 135.9 434.2 C135.3 438.2 135.9 443.5 134.7 446.3 C133.4 449.1 130.6 449.8 128.6 451.0 C126.6 452.1 125.1 452.0 122.5 453.4 C120.0 454.7 115.6 458.2 113.5 459.0 C111.3 459.9 110.8 459.6 109.4 458.4 C108.1 457.3 106.9 455.1 105.4 452.4 C103.9 449.7 102.2 445.7 100.3 442.3 C98.5 438.9 96.0 435.1 94.3 432.2 C92.6 429.3 91.0 427.2 90.2 425.1 C89.4 423.1 90.0 422.0 89.6 419.7 C89.1 417.5 87.8 414.1 87.6 411.3 C87.3 408.5 87.4 405.6 87.9 402.9 C88.4 400.3 90.1 397.6 90.4 395.4 C90.8 393.1 89.6 390.9 90.0 389.5 Z" stroke-width="1.06" fill="#fff"/>
<path d="M94.6 394.1 C95.6 393.9 98.4 392.7 100.5 392.8 C102.6 392.9 105.0 393.6 107.2 394.7 C109.5 395.8 111.9 397.8 114.0 399.6 C116.1 401.4 117.9 403.2 119.9 405.4 C121.8 407.7 124.4 410.6 125.7 413.0 C127.1 415.4 127.1 418.2 127.9 419.7 C128.6 421.3 129.7 420.0 130.2 422.1 C130.7 424.2 131.1 428.8 130.6 432.2 C130.2 435.6 128.9 439.8 127.6 442.3 C126.2 444.7 123.4 446.1 122.5 446.8" stroke-width="1.65" stroke="#333"/>
<path d="M95.5 392.0 C96.6 391.8 99.8 390.9 102.2 391.1 C104.6 391.4 107.2 392.0 109.8 393.2 C112.3 394.5 115.0 396.7 117.3 398.7 C119.7 400.7 122.9 404.3 124.1 405.4" stroke-width="0.71"/>
<path d="M90.0 389.5 L94.6 394.1" stroke-width="0.94"/>
<path d="M92.9 386.9 L95.9 392.4" stroke-width="0.83"/>
<path d="M107.2 389.5 L110.6 387.4" stroke-width="1.65" stroke="#444"/>
<path d="M111.4 391.6 L115.7 389.0" stroke-width="1.65" stroke="#444"/>
<path d="M115.7 394.1 L119.0 391.6" stroke-width="1.65" stroke="#444"/>
<path d="M121.5 397.0 L125.7 394.3" stroke-width="1.65" stroke="#444"/>
<path d="M119.0 400.4 L124.1 399.1" stroke-width="1.65" stroke="#444"/>
<path d="M124.1 404.2 L126.6 402.9" stroke-width="1.65" stroke="#444"/>
<rect x="91.3" y="400.3" width="9.6" height="1.9" rx="0.9" stroke-width="0.6" stroke="#444" fill="#aaa" transform="rotate(-8.0 96.1 401.2)"/>
<rect x="91.8" y="402.6" width="9.3" height="1.9" rx="0.9" stroke-width="0.6" stroke="#444" fill="#aaa" transform="rotate(-8.0 96.5 403.6)"/>
<rect x="92.3" y="405.0" width="9.0" height="1.9" rx="0.9" stroke-width="0.6" stroke="#444" fill="#aaa" transform="rotate(-8.0 96.8 406.0)"/>
<rect x="92.8" y="407.4" width="8.7" height="1.9" rx="0.9" stroke-width="0.6" stroke="#444" fill="#aaa" transform="rotate(-8.0 97.1 408.3)"/>
<rect x="93.3" y="409.7" width="8.4" height="1.9" rx="0.9" stroke-width="0.6" stroke="#444" fill="#aaa" transform="rotate(-8.0 97.5 410.7)"/>
<rect x="93.8" y="412.1" width="8.1" height="1.9" rx="0.9" stroke-width="0.6" stroke="#444" fill="#aaa" transform="rotate(-8.0 97.8 413.0)"/>
<rect x="94.3" y="414.4" width="7.8" height="1.9" rx="0.9" stroke-width="0.6" stroke="#444" fill="#aaa" transform="rotate(-8.0 98.2 415.4)"/>
<rect x="94.7" y="416.8" width="7.5" height="1.9" rx="0.9" stroke-width="0.6" stroke="#444" fill="#aaa" transform="rotate(-8.0 98.5 417.7)"/>
<ellipse cx="116.2" cy="414.9" rx="7.8" ry="9.6" stroke-width="0.94" transform="rotate(-25.0 116.2 414.9)"/>
<ellipse cx="116.5" cy="415.5" rx="5.9" ry="7.8" stroke-width="1.30" transform="rotate(-25.0 116.5 415.5)"/>
<ellipse cx="116.9" cy="415.7" rx="3.9" ry="5.6" stroke-width="1.06" transform="rotate(-25.0 116.9 415.7)"/>
<path d="M106.4 401.2 C107.1 401.1 109.1 400.0 110.6 400.4 C112.1 400.8 113.8 402.6 115.7 403.8 C117.5 404.9 119.9 405.9 121.5 407.1 C123.2 408.4 125.0 410.6 125.7 411.3" stroke-width="0.94"/>
<path d="M106.4 401.2 C106.3 402.4 105.8 405.6 106.0 408.0 C106.1 410.4 107.0 414.3 107.2 415.5" stroke-width="0.94"/>
<path d="M110.6 400.4 L112.3 404.6" stroke-width="0.83"/>
<path d="M130.9 415.7 C131.6 413.4 133.4 414.8 134.5 415.1 C135.7 415.4 137.3 415.6 137.9 417.7 C138.5 419.7 138.3 424.3 138.2 427.5 C138.0 430.7 138.1 434.4 137.0 436.9 C135.9 439.4 132.6 444.0 131.5 442.7 C130.4 441.4 130.4 433.5 130.3 429.0 C130.2 424.5 130.2 418.0 130.9 415.7 Z" stroke-width="0.71" fill="#e8e8e8"/>
<path d="M131.2 419.3 L137.3 417.2" stroke-width="0.94" stroke="#555"/>
<path d="M131.2 422.1 L137.3 419.9" stroke-width="0.94" stroke="#555"/>
<path d="M131.2 424.8 L137.3 422.7" stroke-width="0.94" stroke="#555"/>
<path d="M131.2 427.5 L137.3 425.4" stroke-width="0.94" stroke="#555"/>
<path d="M131.2 430.2 L137.3 428.1" stroke-width="0.94" stroke="#555"/>
<path d="M131.2 433.0 L137.3 430.8" stroke-width="0.94" stroke="#555"/>
<path d="M131.2 435.7 L137.3 433.6" stroke-width="0.94" stroke="#555"/>
<path d="M131.2 438.4 L137.3 436.3" stroke-width="0.94" stroke="#555"/>
<path d="M131.2 441.2 L137.3 439.0" stroke-width="0.94" stroke="#555"/>
<path d="M138.8 417.2 L143.0 415.7" stroke-width="1.89" stroke="#444"/>
<path d="M125.5 395.4 L128.2 393.9" stroke-width="1.77" stroke="#444"/>
<rect x="103.6" y="433.4" width="8.0" height="2.1" rx="1.1" stroke-width="0.65" stroke="#444" fill="#bbb" transform="rotate(-55.0 107.6 434.4)"/>
<rect x="107.6" y="435.4" width="8.0" height="2.1" rx="1.1" stroke-width="0.65" stroke="#444" fill="#bbb" transform="rotate(-55.0 111.6 436.4)"/>
<rect x="111.7" y="437.4" width="8.0" height="2.1" rx="1.1" stroke-width="0.65" stroke="#444" fill="#bbb" transform="rotate(-55.0 115.7 438.5)"/>
<rect x="115.7" y="439.2" width="8.0" height="2.1" rx="1.1" stroke-width="0.65" stroke="#444" fill="#bbb" transform="rotate(-55.0 119.7 440.3)"/>
<rect x="119.5" y="440.4" width="8.0" height="2.1" rx="1.1" stroke-width="0.65" stroke="#444" fill="#bbb" transform="rotate(-55.0 123.5 441.5)"/>
<ellipse cx="93.5" cy="428.2" rx="2.4" ry="2.6" stroke-width="0.94" fill="#fff"/>
<ellipse cx="98.1" cy="426.1" rx="1.6" ry="2.6" stroke-width="0.83" transform="rotate(-30.0 98.1 426.1)"/>
<path d="M96.3 436.2 C97.3 437.4 100.3 441.4 102.3 443.3 C104.4 445.1 106.4 446.8 108.4 447.3 C110.4 447.8 113.1 446.0 114.5 446.3 C115.8 446.7 116.6 448.0 116.5 449.4 C116.3 450.7 114.0 453.6 113.5 454.4" stroke-width="0.94"/>
<ellipse cx="109.4" cy="452.6" rx="1.6" ry="2.6" stroke-width="0.94" transform="rotate(-20.0 109.4 452.6)"/>
<path d="M116.5 427.1 C117.2 427.6 118.8 429.1 120.5 429.7 C122.2 430.3 125.6 430.5 126.6 430.7" stroke-width="0.94"/>
<path d="M122.5 446.8 C123.2 447.3 125.1 449.6 126.6 449.9 C128.1 450.1 130.3 448.9 131.6 448.3 C133.0 447.8 134.1 446.7 134.7 446.3" stroke-width="0.94"/>
<path d="M126.6 444.3 L127.6 449.4" stroke-width="0.83"/>
<path d="M135.8 397.9 C135.8 395.9 136.0 393.1 136.7 391.6 C137.4 390.0 138.9 388.8 140.1 388.5 C141.2 388.1 142.4 388.5 143.4 389.5 C144.4 390.4 145.3 392.1 145.9 394.1 C146.6 396.1 147.1 399.2 147.2 401.2 C147.3 403.3 147.0 405.1 146.4 406.3 C145.7 407.5 144.5 408.5 143.4 408.6 C142.4 408.8 141.1 408.0 140.1 407.1 C139.0 406.2 137.8 404.9 137.1 403.3 C136.4 401.8 135.9 399.8 135.8 397.9 Z" stroke-width="1.06" fill="#fff"/>
<ellipse cx="141.1" cy="402.2" rx="3.6" ry="5.4" stroke-width="1.42" transform="rotate(-25.0 141.1 402.2)"/>
<ellipse cx="141.1" cy="402.2" rx="2.4" ry="4.0" stroke-width="0.83" transform="rotate(-25.0 141.1 402.2)"/>
<path d="M137.5 392.8 C138.1 392.5 139.7 390.9 140.9 391.1 C142.1 391.4 144.0 393.6 144.7 394.1" stroke-width="0.83"/>
<path d="M74.3 435.7 C74.0 434.2 74.3 431.9 75.3 430.7 C76.3 429.4 78.5 428.4 80.1 428.4 C81.8 428.3 83.6 428.7 85.2 430.2 C86.8 431.7 88.8 435.2 89.7 437.2 C90.7 439.3 90.9 440.9 90.7 442.3 C90.6 443.7 90.0 445.1 88.7 445.8 C87.5 446.5 84.8 446.9 83.2 446.5 C81.5 446.1 79.6 444.4 78.6 443.3 C77.6 442.2 77.8 441.0 77.1 439.8 C76.4 438.5 74.6 437.2 74.3 435.7 Z" stroke-width="1.06" fill="#fff"/>
<path d="M77.1 435.7 C76.9 434.7 77.3 433.4 77.9 432.7 C78.5 432.0 79.6 431.4 80.6 431.4 C81.7 431.4 83.0 431.5 84.2 432.7 C85.3 433.9 86.8 436.9 87.4 438.5 C88.0 440.0 88.1 440.9 88.0 441.8 C87.9 442.7 87.5 443.4 86.7 443.8 C85.9 444.2 84.4 444.4 83.4 444.1 C82.4 443.8 81.3 442.9 80.6 442.1 C80.0 441.2 79.9 440.1 79.3 439.1 C78.7 438.0 77.3 436.8 77.1 435.7 Z" stroke-width="1.06"/>
</g>
<g id="p19">
<path d="M261.4 178.9 L265.2 175.0 L266.5 172.5 L268.9 169.3 L273.5 165.5 L278.7 162.9 L282.2 163.8 L284.9 159.8 L290.1 159.2 L294.5 161.5 L295.8 159.8 L297.3 161.0 L297.8 164.5 L299.0 167.1 L303.2 166.9 L305.9 170.6 L306.4 176.7 L305.0 179.5 L307.8 186.5 L305.2 188.6 L292.7 196.2 L284.9 200.5 L279.6 202.6 L277.5 197.9 L274.8 198.3 L271.0 194.9 L268.2 193.5" stroke-width="1.06"/>
<path d="M262.1 189.7 C263.1 189.2 266.2 187.6 268.2 186.5 C270.3 185.5 273.5 183.8 274.5 183.2"/>
<path d="M263.5 196.3 C264.5 195.9 267.1 194.4 269.1 193.5 C271.1 192.6 274.4 191.4 275.4 190.9"/>
<ellipse cx="262.3" cy="193.0" rx="2.4" ry="3.3" stroke-width="1.06" stroke="#222" fill="#ccc" transform="rotate(-25.0 262.3 193.0)"/>
<ellipse cx="262.3" cy="193.0" rx="1.1" ry="1.6" stroke-width="0.71" fill="#fff" transform="rotate(-25.0 262.3 193.0)"/>
<ellipse cx="266.7" cy="190.7" rx="2.0" ry="3.6" stroke-width="1.00" transform="rotate(-25.0 266.7 190.7)"/>
<ellipse cx="275.1" cy="186.5" rx="2.6" ry="4.6" stroke-width="1.06" fill="#fff" transform="rotate(-25.0 275.1 186.5)"/>
<ellipse cx="277.9" cy="184.8" rx="3.8" ry="6.0" stroke-width="1.12" transform="rotate(-25.0 277.9 184.8)"/>
<path d="M276.6 180.2 C277.1 180.7 279.3 181.7 280.1 182.9 C280.9 184.0 281.4 185.8 281.4 187.2 C281.4 188.7 280.3 190.9 280.1 191.6" stroke-width="1.12"/>
<path d="M264.3 190.7 L264.7 195.1" stroke-width="0.71"/>
<path d="M265.4 190.0 L265.8 194.4" stroke-width="0.71"/>
<path d="M261.4 178.9 L264.0 180.2 L265.6 178.1 L267.8 180.2 L266.5 182.9 L270.0 182.0 L272.2 179.4" stroke-width="1.12"/>
<path d="M266.5 172.5 L269.1 175.9 L273.5 173.7 L276.6 175.9 L278.7 172.8 L281.4 168.0 L278.7 162.9" stroke-width="1.12"/>
<path d="M268.9 169.3 L271.3 172.8 L274.8 170.6 L273.5 165.5" stroke-width="1.00"/>
<path d="M265.2 175.0 L268.2 176.9 L271.7 175.4 L274.4 178.5 L277.9 176.9 L280.9 171.5 L284.9 168.9" stroke-width="1.12"/>
<path d="M269.1 171.1 L270.4 174.6" stroke-width="1.65" stroke="#555"/>
<path d="M275.7 167.1 L277.0 170.2" stroke-width="1.65" stroke="#555"/>
<path d="M280.9 171.5 L284.9 168.9 L291.0 169.7 L293.6 172.8 L291.0 179.4 L287.5 182.0 L284.0 179.4 L281.4 175.9 L280.9 171.5" stroke-width="1.12"/>
<path d="M283.1 171.5 L286.2 175.9" stroke-width="1.00"/>
<path d="M285.3 171.1 L288.5 175.4" stroke-width="1.00"/>
<path d="M286.6 176.7 L289.2 173.7 L292.7 174.1" stroke-width="1.00"/>
<path d="M282.2 163.8 L285.7 167.1 L291.0 165.4 L294.5 161.5" stroke-width="1.12"/>
<path d="M284.9 159.8 L286.2 163.6 L290.1 162.7 L293.6 164.5 L296.2 169.7 L299.0 167.1" stroke-width="1.12"/>
<path d="M287.5 182.0 L291.0 184.2 L296.2 182.9 L299.7 179.4 L303.2 175.9 L306.4 176.7" stroke-width="1.12"/>
<path d="M293.6 172.8 L297.1 171.1 L300.6 172.4 L303.2 175.9" stroke-width="1.12"/>
<path d="M297.1 171.1 L299.7 176.7 L298.0 182.0" stroke-width="1.00"/>
<ellipse cx="293.8" cy="179.8" rx="1.0" ry="1.6" stroke-width="1.00"/>
<path d="M303.2 166.9 L303.7 171.5 L305.9 170.6" stroke-width="1.00"/>
<path d="M305.0 172.4 L307.2 172.8 L306.3 174.6" stroke-width="1.00"/>
<path d="M281.4 187.2 L285.7 189.0 L289.2 187.2 L292.7 189.0 L297.1 186.4 L299.7 183.7 L305.0 179.5" stroke-width="1.12"/>
<path d="M280.1 191.6 L284.0 194.2 L287.5 193.4 L291.0 195.1 L292.7 196.2" stroke-width="1.12"/>
<path d="M285.7 189.0 L286.2 193.4" stroke-width="1.00"/>
<path d="M289.2 187.7 L289.7 192.9" stroke-width="1.53" stroke="#555"/>
<path d="M291.4 188.6 L291.9 193.8" stroke-width="1.00"/>
<path d="M287.5 190.7 L287.9 193.8" stroke-width="1.00"/>
<path d="M297.1 186.4 L298.0 192.5" stroke-width="1.00"/>
<path d="M299.7 183.7 L301.5 190.3" stroke-width="1.00"/>
<path d="M294.5 188.6 L295.4 194.2" stroke-width="1.00"/>
<path d="M277.5 197.9 L280.5 195.8 L282.2 199.5 L284.9 200.5" stroke-width="1.12"/>
<path d="M280.5 195.8 L280.1 191.6" stroke-width="1.00"/>
<path d="M282.2 199.5 L292.7 193.8 L305.0 187.2" stroke-width="1.00"/>
<path d="M271.0 194.9 L273.5 193.4 L277.5 195.1 L277.5 197.9" stroke-width="1.00"/>
<path d="M284.9 196.0 L285.7 199.9" stroke-width="1.42" stroke="#555"/>
<path d="M271.3 169.7 L272.6 173.7" stroke-width="1.77" stroke="#555"/>
<path d="M279.2 165.4 L280.5 168.9" stroke-width="1.53" stroke="#555"/>
<path d="M292.7 165.4 L294.9 169.3" stroke-width="1.77" stroke="#555"/>
<path d="M300.2 169.3 L301.9 174.6" stroke-width="1.65" stroke="#555"/>
<path d="M282.2 180.2 L284.9 184.2" stroke-width="1.65" stroke="#555"/>
<path d="M295.8 183.7 L297.1 185.9" stroke-width="1.53" stroke="#555"/>
<path d="M262.8 191.2 L264.0 195.1" stroke-width="1.42" stroke="#444"/>
<path d="M261.2 192.9 L263.7 191.8" stroke-width="0.94"/>
<path d="M282.2 175.9 C282.8 176.6 284.6 179.1 285.7 180.2 C286.9 181.4 288.7 182.4 289.2 182.9" stroke-width="1.06"/>
</g>
</svg>
<div id="tbl">
<div class="hl" style="left:447px;top:97.7px;width:348px"></div>
<div class="hl" style="left:447px;top:117.7px;width:348px"></div>
<div class="hl" style="left:447px;top:521.3px;width:348px"></div>
<div class="vl" style="left:470.1px;top:98px;height:424px"></div>
<div class="vl" style="left:541.4px;top:98px;height:424px"></div>
<div class="vl" style="left:709px;top:98px;height:424px"></div>
<div class="vl" style="left:729px;top:98px;height:424px"></div>
<div class="tc" style="left:429.0px;width:60px;top:99.5px"><span class="cj" style="width:21.21px"><span>序号</span></span></div>
<div class="tc" style="left:429.0px;width:60px;top:107.9px">INDEX</div>
<div class="tc" style="left:446.0px;width:120px;top:99.5px"><span class="cj" style="width:10.60px"><span>件</span></span><span style="display:inline-block;width:17.2px"></span><span class="cj" style="width:10.60px"><span>号</span></span></div>
<div class="tc" style="left:446.0px;width:120px;top:107.9px">PART NO.</div>
<div class="tc" style="left:546.0px;width:160px;top:99.5px"><span class="cj" style="width:10.60px"><span>名</span></span><span style="display:inline-block;width:32px"></span><span class="cj" style="width:10.60px"><span>称</span></span></div>
<div class="tc" style="left:546.0px;width:160px;top:107.9px">DESCRIPTION</div>
<div class="tc" style="left:689.5px;width:60px;top:99.5px"><span class="cj" style="width:21.21px"><span>数量</span></span></div>
<div class="tc" style="left:689.5px;width:60px;top:107.9px">Q'TY</div>
<div class="tc" style="left:702.0px;width:120px;top:99.5px"><span class="cj" style="width:31.81px"><span>系列号</span></span></div>
<div class="tc" style="left:702.0px;width:120px;top:107.9px">SERIAL NO.</div>
<div class="row" style="top:129.4px"><span class="ix"></span><span class="pn">600-861-6410</span><span class="ds"><b><span class="cj" style="width:53.02px"><span>交流发电机</span></span><s style="display:inline-block;width:4.2px"></s>A<span class="cj" style="width:10.60px"><span>（</span></span>60A<span class="cj" style="width:8.05px"><span>）</span></span></b><i style="text-align:center;color:#777">&nbsp;......</i><b>ALTERNATOR A. (60A)</b></span><span class="qt">1</span><span class="sn">26274903-</span></div>
<div class="row" style="top:169.4px"><span class="ix"></span><span class="pn">ND121400-0800</span><span class="ds"><b><u>.<s style="display:inline-block;width:5.4px"></s></u><span class="cj" style="width:42.42px"><span>机架总成</span></span></b><i>..................................................................................................................................</i><b>FRAME ASS' Y</b></span><span class="qt">1</span><span class="sn">26274903-</span></div>
<div class="row" style="top:179.4px"><span class="ix">1</span><span class="pn">ND021100-4210</span><span class="ds"><b><u>..<s style="display:inline-block;width:5.8px"></s></u><span class="cj" style="width:42.42px"><span>定子总成</span></span></b><i>..................................................................................................................................</i><b>STATOR ASS' Y</b></span><span class="qt">1</span><span class="sn">26274903-</span></div>
<div class="row" style="top:189.4px"><span class="ix">2</span><span class="pn">ND021401-4980</span><span class="ds"><b><u>..<s style="display:inline-block;width:5.8px"></s></u><span class="cj" style="width:21.21px"><span>机架</span></span></b><i>..................................................................................................................................</i><b>FRAME</b></span><span class="qt">1</span><span class="sn">26274903-</span></div>
<div class="row" style="top:199.4px"><span class="ix">3</span><span class="pn">ND021411-0570</span><span class="ds"><b><u>..<s style="display:inline-block;width:5.8px"></s></u><span class="cj" style="width:10.60px"><span>板</span></span></b><i>..................................................................................................................................</i><b>PLATE</b></span><span class="qt">1</span><span class="sn">26274903-</span></div>
<div class="row" style="top:209.4px"><span class="ix">4</span><span class="pn">ND021045-0530</span><span class="ds"><b><u>..<s style="display:inline-block;width:5.8px"></s></u><span class="cj" style="width:21.21px"><span>护环</span></span></b><i>..................................................................................................................................</i><b>COLLAR</b></span><span class="qt">1</span><span class="sn">26274903-</span></div>
<div class="row" style="top:219.4px"><span class="ix">5</span><span class="pn">ND949006-5590</span><span class="ds"><b><u>..<s style="display:inline-block;width:5.8px"></s></u><span class="cj" style="width:21.21px"><span>螺钉</span></span></b><i>..................................................................................................................................</i><b>SCREW</b></span><span class="qt">4</span><span class="sn">26274903-</span></div>
<div class="row" style="top:229.4px"><span class="ix">6</span><span class="pn">ND949100-5010</span><span class="ds"><b><u>..<s style="display:inline-block;width:5.8px"></s></u><span class="cj" style="width:31.81px"><span>球轴承</span></span></b><i>..................................................................................................................................</i><b>BEARING, BALL</b></span><span class="qt">1</span><span class="sn">26274903-</span></div>
<div class="row" style="top:239.4px"><span class="ix">7</span><span class="pn">ND949043-2000</span><span class="ds"><b><u>..<s style="display:inline-block;width:5.8px"></s></u><span class="cj" style="width:42.42px"><span>双头螺栓</span></span></b><i>..................................................................................................................................</i><b>BOLT, STUD</b></span><span class="qt">4</span><span class="sn">26274903-</span></div>
<div class="row" style="top:249.4px"><span class="ix">8</span><span class="pn">ND021501-8050</span><span class="ds"><b><u>.<s style="display:inline-block;width:5.4px"></s></u><span class="cj" style="width:31.81px"><span>后机架</span></span></b><i>..................................................................................................................................</i><b>FRAME, REAR</b></span><span class="qt">1</span><span class="sn">26274903-</span></div>
<div class="row" style="top:259.4px"><span class="ix">9</span><span class="pn">ND021580-4820</span><span class="ds"><b><u>.<s style="display:inline-block;width:5.4px"></s></u><span class="cj" style="width:31.81px"><span>保持器</span></span></b><i>..................................................................................................................................</i><b>HOLDER</b></span><span class="qt">1</span><span class="sn">26274903-</span></div>
<div class="row" style="top:269.4px"><span class="ix">10</span><span class="pn">ND021620-2720</span><span class="ds"><b><u>.<s style="display:inline-block;width:5.4px"></s></u><span class="cj" style="width:53.02px"><span>电刷座总成</span></span></b><i>..................................................................................................................................</i><b>BRUSH HOLDER ASS' Y</b></span><span class="qt">1</span><span class="sn">26274903-</span></div>
<div class="row" style="top:279.4px"><span class="ix">11</span><span class="pn">ND126000-2320</span><span class="ds"><b><u>.<s style="display:inline-block;width:5.4px"></s></u><span class="cj" style="width:53.02px"><span>电刷座总成</span></span></b><i>..................................................................................................................................</i><b>BRUSH HOLDER ASS' Y</b></span><span class="qt">1</span><span class="sn">26274903-</span></div>
<div class="row" style="top:289.4px"><span class="ix">12</span><span class="pn">ND021551-2480</span><span class="ds"><b><u>.<s style="display:inline-block;width:5.4px"></s></u><span class="cj" style="width:10.60px"><span>盖</span></span></b><i>..................................................................................................................................</i><b>COVER</b></span><span class="qt">1</span><span class="sn">26274903-</span></div>
<div class="row" style="top:299.4px"><span class="ix">13</span><span class="pn">ND021605-1970</span><span class="ds"><b><u>.<s style="display:inline-block;width:5.4px"></s></u><span class="cj" style="width:21.21px"><span>衬套</span></span></b><i>..................................................................................................................................</i><b>BUSHING</b></span><span class="qt">4</span><span class="sn">26274903-</span></div>
<div class="row" style="top:309.4px"><span class="ix">14</span><span class="pn">ND021605-2480</span><span class="ds"><b><u>.<s style="display:inline-block;width:5.4px"></s></u><span class="cj" style="width:21.21px"><span>衬套</span></span></b><i>..................................................................................................................................</i><b>BUSHING</b></span><span class="qt">1</span><span class="sn">26274903-</span></div>
<div class="row" style="top:319.4px"><span class="ix">15</span><span class="pn">ND949006-5460</span><span class="ds"><b><u>.<s style="display:inline-block;width:5.4px"></s></u><span class="cj" style="width:21.21px"><span>螺钉</span></span></b><i>..................................................................................................................................</i><b>SCREW</b></span><span class="qt">3</span><span class="sn">26274903-</span></div>
<div class="row" style="top:329.4px"><span class="ix">16</span><span class="pn">ND91310-04251</span><span class="ds"><b><u>.<s style="display:inline-block;width:5.4px"></s></u><span class="cj" style="width:21.21px"><span>螺钉</span></span></b><i>..................................................................................................................................</i><b>SCREW</b></span><span class="qt">2</span><span class="sn">26274903-</span></div>
<div class="row" style="top:339.4px"><span class="ix"></span><span class="pn">ND949007-5110</span><span class="ds"><b><u>.<s style="display:inline-block;width:5.4px"></s></u><span class="cj" style="width:21.21px"><span>螺钉</span></span></b><i>..................................................................................................................................</i><b>SCREW</b></span><span class="qt">2</span><span class="sn">26274903-</span></div>
<div class="row" style="top:349.4px"><span class="ix">17</span><span class="pn">ND949056-2481</span><span class="ds"><b><u>.<s style="display:inline-block;width:5.4px"></s></u><span class="cj" style="width:21.21px"><span>螺母</span></span></b><i>..................................................................................................................................</i><b>NUT</b></span><span class="qt">7</span><span class="sn">26274903-</span></div>
<div class="row" style="top:359.4px"><span class="ix">18</span><span class="pn">ND949056-3080</span><span class="ds"><b><u>.<s style="display:inline-block;width:5.4px"></s></u><span class="cj" style="width:21.21px"><span>螺母</span></span></b><i>..................................................................................................................................</i><b>NUT</b></span><span class="qt">1</span><span class="sn">26274903-</span></div>
<div class="row" style="top:369.4px"><span class="ix">19</span><span class="pn">ND021200-4141</span><span class="ds"><b><u>.<s style="display:inline-block;width:5.4px"></s></u><span class="cj" style="width:42.42px"><span>转子总成</span></span></b><i>..................................................................................................................................</i><b>ROTOR ASS' Y</b></span><span class="qt">1</span><span class="sn">26274903-</span></div>
<div class="row" style="top:379.4px"><span class="ix">20</span><span class="pn">ND949100-2790</span><span class="ds"><b><u>..<s style="display:inline-block;width:5.8px"></s></u><span class="cj" style="width:31.81px"><span>球轴承</span></span></b><i>..................................................................................................................................</i><b>BEARING, BALL</b></span><span class="qt">1</span><span class="sn">26274903-</span></div>
<div class="row" style="top:389.4px"><span class="ix">21</span><span class="pn">ND021506-0070</span><span class="ds"><b><u>..<s style="display:inline-block;width:5.8px"></s></u><span class="cj" style="width:10.60px"><span>盖</span></span></b><i>..................................................................................................................................</i><b>COVER</b></span><span class="qt">1</span><span class="sn">26274903-</span></div>
<div class="row" style="top:399.4px"><span class="ix">22</span><span class="pn">ND021041-8620</span><span class="ds"><b><u>.<s style="display:inline-block;width:5.4px"></s></u><span class="cj" style="width:31.81px"><span>皮带轮</span></span></b><i>..................................................................................................................................</i><b>PULLEY</b></span><span class="qt">1</span><span class="sn">26274903-</span></div>
<div class="row" style="top:409.4px"><span class="ix">23</span><span class="pn">ND949056-2520</span><span class="ds"><b><u>.<s style="display:inline-block;width:5.4px"></s></u><span class="cj" style="width:21.21px"><span>螺母</span></span></b><i>..................................................................................................................................</i><b>NUT</b></span><span class="qt">1</span><span class="sn">26274903-</span></div>
<div class="row" style="top:419.4px"><span class="ix">24</span><span class="pn">ND021626-0190</span><span class="ds"><b><u>.<s style="display:inline-block;width:5.4px"></s></u><span class="cj" style="width:21.21px"><span>密封</span></span></b><i>..................................................................................................................................</i><b>SEAL</b></span><span class="qt">1</span><span class="sn">26274903-</span></div>
<div class="row" style="top:429.4px"><span class="ix">25</span><span class="pn">ND021626-0250</span><span class="ds"><b><u>.<s style="display:inline-block;width:5.4px"></s></u><span class="cj" style="width:21.21px"><span>密封</span></span></b><i>..................................................................................................................................</i><b>SEAL</b></span><span class="qt">1</span><span class="sn">26274903-</span></div>
<div class="row" style="top:439.4px"><span class="ix">26</span><span class="pn">ND021542-0160</span><span class="ds"><b><u>.<s style="display:inline-block;width:5.4px"></s></u><span class="cj" style="width:21.21px"><span>垫圈</span></span></b><i>..................................................................................................................................</i><b>WASHER</b></span><span class="qt">1</span><span class="sn">26274903-</span></div>
<div class="row" style="top:449.4px"><span class="ix">27</span><span class="pn">ND949006-6401</span><span class="ds"><b><u>.<s style="display:inline-block;width:5.4px"></s></u><span class="cj" style="width:21.21px"><span>螺钉</span></span></b><i>..................................................................................................................................</i><b>SCREW</b></span><span class="qt">1</span><span class="sn">26274903-</span></div>
<div class="row" style="top:459.4px"><span class="ix">28</span><span class="pn">ND949007-6280</span><span class="ds"><b><u>.<s style="display:inline-block;width:5.4px"></s></u><span class="cj" style="width:21.21px"><span>螺钉</span></span></b><i>..................................................................................................................................</i><b>SCREW</b></span><span class="qt">4</span><span class="sn">26274903-</span></div>
<div class="row" style="top:469.4px"><span class="ix">29</span><span class="pn">ND021602-5230</span><span class="ds"><b><u>.<s style="display:inline-block;width:5.4px"></s></u><span class="cj" style="width:10.60px"><span>板</span></span></b><i>..................................................................................................................................</i><b>PLATE</b></span><span class="qt">1</span><span class="sn">26274903-</span></div>
<div class="row" style="top:479.4px"><span class="ix">30</span><span class="pn">ND021751-1990</span><span class="ds"><b><u>.<s style="display:inline-block;width:5.4px"></s></u><span class="cj" style="width:21.21px"><span>夹子</span></span></b><i>..................................................................................................................................</i><b>CLIP</b></span><span class="qt">1</span><span class="sn">26274903-</span></div>
<div class="row" style="top:489.4px"><span class="ix">31</span><span class="pn">ND021700-2680</span><span class="ds"><b><u>.<s style="display:inline-block;width:5.4px"></s></u><span class="cj" style="width:21.21px"><span>电线</span></span></b><i>..................................................................................................................................</i><b>WIRE</b></span><span class="qt">1</span><span class="sn">26274903-</span></div>
<div class="row" style="top:499.4px"><span class="ix">32</span><span class="pn">ND92150-06061</span><span class="ds"><b><u>.<s style="display:inline-block;width:5.4px"></s></u><span class="cj" style="width:21.21px"><span>螺母</span></span></b><i>..................................................................................................................................</i><b>NUT</b></span><span class="qt">1</span><span class="sn">26274903-</span></div>
<div class="row" style="top:139.4px"><span class="jl">DENSO<span class="cj" style="width:169.66px"><span>件号为从下面所列的小松件号中除去</span></span>ND</span></div>
<div class="row" style="top:149.4px"><span class="jl" style="text-align:justify;text-align-last:justify;white-space:normal">REMOVED FROM KOMATSU PART NUMBER</span></div>
<div class="row" style="top:159.4px"><span class="jl">LISTED BELOW.</span></div>
</div>
</div>
</body></html>
